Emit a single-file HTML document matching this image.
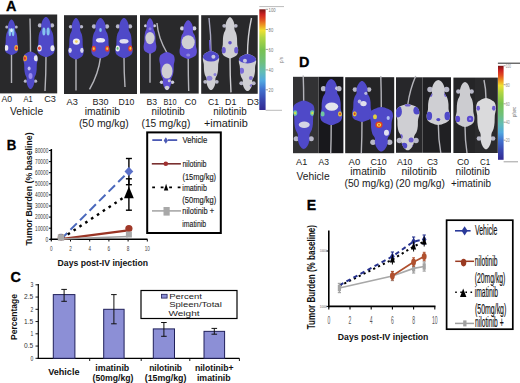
<!DOCTYPE html><html><head><meta charset="utf-8"><style>html,body{margin:0;padding:0;background:#fff;}svg{display:block;}text{font-family:"Liberation Sans",sans-serif;}</style></head><body>
<svg width="520" height="383" viewBox="0 0 520 383">
<defs><filter id="soft" x="-20%" y="-20%" width="140%" height="140%"><feGaussianBlur stdDeviation="0.55"/></filter><filter id="soft2" x="-20%" y="-20%" width="140%" height="140%"><feGaussianBlur stdDeviation="0.35"/></filter><linearGradient id="cbar" x1="0" y1="0" x2="0" y2="1"><stop offset="0" stop-color="#7a1414"/><stop offset="0.05" stop-color="#cc2020"/><stop offset="0.10" stop-color="#e04a20"/><stop offset="0.16" stop-color="#ee9a22"/><stop offset="0.21" stop-color="#eee030"/><stop offset="0.28" stop-color="#b2d642"/><stop offset="0.40" stop-color="#78c250"/><stop offset="0.52" stop-color="#70c07a"/><stop offset="0.62" stop-color="#62bcb4"/><stop offset="0.71" stop-color="#52a8e0"/><stop offset="0.79" stop-color="#4274d0"/><stop offset="0.89" stop-color="#3a4ab2"/><stop offset="1" stop-color="#322a92"/></linearGradient></defs>
<rect width="520" height="383" fill="#fff"/>
<text x="6.00" y="10.70" font-size="15" font-weight="bold" fill="#000" text-anchor="start" textLength="10.40" lengthAdjust="spacingAndGlyphs" stroke="#000" stroke-width="0.3">A</text>
<rect x="0" y="14.5" width="57.2" height="78.9" fill="#29292b"/>
<rect x="64" y="15.2" width="73" height="78.8" fill="#29292b"/>
<rect x="140" y="15.2" width="58.69999999999999" height="78.39999999999999" fill="#29292b"/>
<rect x="201.2" y="15.2" width="56.5" height="78.6" fill="#29292b"/>
<g transform="translate(11.50,19.50)" filter="url(#soft)" ><clipPath id="m1"><path d="M0.00,0.00 C0.56,0.00 1.19,0.59 1.69,1.24 C2.19,1.89 2.67,2.93 2.99,3.90 C3.32,4.88 3.53,5.98 3.64,7.10 C3.75,8.22 3.40,9.47 3.64,10.65 C3.88,11.83 4.72,12.90 5.07,14.20 C5.42,15.50 5.59,16.92 5.72,18.46 C5.85,20.00 5.70,21.83 5.85,23.43 C6.00,25.03 6.61,26.62 6.63,28.05 C6.65,29.47 6.49,30.94 5.98,31.95 C5.47,32.96 4.57,33.49 3.58,34.08 C2.58,34.67 1.19,35.50 0.00,35.50 C-1.19,35.50 -2.58,34.67 -3.58,34.08 C-4.57,33.49 -5.47,32.96 -5.98,31.95 C-6.49,30.94 -6.65,29.47 -6.63,28.05 C-6.61,26.62 -6.00,25.03 -5.85,23.43 C-5.70,21.83 -5.85,20.00 -5.72,18.46 C-5.59,16.92 -5.42,15.50 -5.07,14.20 C-4.72,12.90 -3.88,11.83 -3.64,10.65 C-3.40,9.47 -3.75,8.22 -3.64,7.10 C-3.53,5.98 -3.32,4.88 -2.99,3.90 C-2.67,2.93 -2.19,1.89 -1.69,1.24 C-1.19,0.59 -0.56,0.00 0.00,0.00 Z"/></clipPath><path d="M0,34.5 Q0,49.5 0,63.5" stroke="#b4b4ba" stroke-width="1.4" fill="none"/><circle cx="-4.68" cy="7.46" r="1.56" fill="#b8b8c8"/><circle cx="4.68" cy="7.46" r="1.56" fill="#b8b8c8"/><path d="M0.00,0.00 C0.56,0.00 1.19,0.59 1.69,1.24 C2.19,1.89 2.67,2.93 2.99,3.90 C3.32,4.88 3.53,5.98 3.64,7.10 C3.75,8.22 3.40,9.47 3.64,10.65 C3.88,11.83 4.72,12.90 5.07,14.20 C5.42,15.50 5.59,16.92 5.72,18.46 C5.85,20.00 5.70,21.83 5.85,23.43 C6.00,25.03 6.61,26.62 6.63,28.05 C6.65,29.47 6.49,30.94 5.98,31.95 C5.47,32.96 4.57,33.49 3.58,34.08 C2.58,34.67 1.19,35.50 0.00,35.50 C-1.19,35.50 -2.58,34.67 -3.58,34.08 C-4.57,33.49 -5.47,32.96 -5.98,31.95 C-6.49,30.94 -6.65,29.47 -6.63,28.05 C-6.61,26.62 -6.00,25.03 -5.85,23.43 C-5.70,21.83 -5.85,20.00 -5.72,18.46 C-5.59,16.92 -5.42,15.50 -5.07,14.20 C-4.72,12.90 -3.88,11.83 -3.64,10.65 C-3.40,9.47 -3.75,8.22 -3.64,7.10 C-3.53,5.98 -3.32,4.88 -2.99,3.90 C-2.67,2.93 -2.19,1.89 -1.69,1.24 C-1.19,0.59 -0.56,0.00 0.00,0.00 Z" fill="#5048c8"/><g clip-path="url(#m1)"><ellipse cx="-1.62" cy="12.78" rx="1.30" ry="4.00" fill="#86c4f0" opacity="1"/><ellipse cx="1.62" cy="12.78" rx="1.30" ry="4.00" fill="#86c4f0" opacity="1"/><ellipse cx="0.00" cy="10.65" rx="1.20" ry="2.00" fill="#e0f0ff" opacity="1"/><ellipse cx="-5.20" cy="28.40" rx="2.00" ry="2.80" fill="#e8e8f0" opacity="1"/><ellipse cx="4.88" cy="28.40" rx="2.00" ry="2.80" fill="#f0b040" opacity="1"/><ellipse cx="4.88" cy="28.40" rx="1.00" ry="1.40" fill="#e03030" opacity="1"/></g></g>
<g transform="translate(30.50,89.00) scale(1,-1)" filter="url(#soft)" ><clipPath id="m2"><path d="M0.00,0.00 C0.61,0.00 1.28,0.62 1.82,1.31 C2.36,1.99 2.87,3.09 3.22,4.11 C3.57,5.14 3.80,6.30 3.92,7.48 C4.04,8.66 3.66,9.97 3.92,11.22 C4.18,12.47 5.09,13.59 5.46,14.96 C5.83,16.33 6.02,17.83 6.16,19.45 C6.30,21.07 6.14,23.00 6.30,24.68 C6.46,26.37 7.12,28.05 7.14,29.55 C7.16,31.04 6.99,32.60 6.44,33.66 C5.89,34.72 4.92,35.28 3.85,35.90 C2.78,36.53 1.28,37.40 0.00,37.40 C-1.28,37.40 -2.78,36.53 -3.85,35.90 C-4.92,35.28 -5.89,34.72 -6.44,33.66 C-6.99,32.60 -7.16,31.04 -7.14,29.55 C-7.12,28.05 -6.46,26.37 -6.30,24.68 C-6.14,23.00 -6.30,21.07 -6.16,19.45 C-6.02,17.83 -5.83,16.33 -5.46,14.96 C-5.09,13.59 -4.18,12.47 -3.92,11.22 C-3.66,9.97 -4.04,8.66 -3.92,7.48 C-3.80,6.30 -3.57,5.14 -3.22,4.11 C-2.87,3.09 -2.36,1.99 -1.82,1.31 C-1.28,0.62 -0.61,0.00 0.00,0.00 Z"/></clipPath><path d="M0,36.4 Q0,53.9 -0.5,70.4" stroke="#b4b4ba" stroke-width="1.4" fill="none"/><circle cx="-5.04" cy="7.85" r="1.68" fill="#b8b8c8"/><circle cx="5.04" cy="7.85" r="1.68" fill="#b8b8c8"/><path d="M0.00,0.00 C0.61,0.00 1.28,0.62 1.82,1.31 C2.36,1.99 2.87,3.09 3.22,4.11 C3.57,5.14 3.80,6.30 3.92,7.48 C4.04,8.66 3.66,9.97 3.92,11.22 C4.18,12.47 5.09,13.59 5.46,14.96 C5.83,16.33 6.02,17.83 6.16,19.45 C6.30,21.07 6.14,23.00 6.30,24.68 C6.46,26.37 7.12,28.05 7.14,29.55 C7.16,31.04 6.99,32.60 6.44,33.66 C5.89,34.72 4.92,35.28 3.85,35.90 C2.78,36.53 1.28,37.40 0.00,37.40 C-1.28,37.40 -2.78,36.53 -3.85,35.90 C-4.92,35.28 -5.89,34.72 -6.44,33.66 C-6.99,32.60 -7.16,31.04 -7.14,29.55 C-7.12,28.05 -6.46,26.37 -6.30,24.68 C-6.14,23.00 -6.30,21.07 -6.16,19.45 C-6.02,17.83 -5.83,16.33 -5.46,14.96 C-5.09,13.59 -4.18,12.47 -3.92,11.22 C-3.66,9.97 -4.04,8.66 -3.92,7.48 C-3.80,6.30 -3.57,5.14 -3.22,4.11 C-2.87,3.09 -2.36,1.99 -1.82,1.31 C-1.28,0.62 -0.61,0.00 0.00,0.00 Z" fill="#5048c8"/><g clip-path="url(#m2)"><ellipse cx="0.00" cy="13.09" rx="2.00" ry="3.00" fill="#9a8cf0" opacity="1"/><ellipse cx="-1.40" cy="20.57" rx="1.50" ry="2.00" fill="#c0c0f0" opacity="1"/><ellipse cx="-5.60" cy="30.67" rx="2.20" ry="3.00" fill="#f0a030" opacity="1"/><ellipse cx="-5.60" cy="30.67" rx="1.00" ry="1.50" fill="#e03030" opacity="1"/><ellipse cx="5.60" cy="30.67" rx="2.20" ry="3.00" fill="#e8e8f0" opacity="1"/></g></g>
<g transform="translate(46.00,17.00)" filter="url(#soft)" ><clipPath id="m3"><path d="M0.00,0.00 C0.74,0.00 1.56,0.67 2.21,1.40 C2.86,2.13 3.48,3.30 3.91,4.40 C4.33,5.50 4.62,6.73 4.76,8.00 C4.90,9.27 4.45,10.67 4.76,12.00 C5.07,13.33 6.18,14.53 6.63,16.00 C7.08,17.47 7.31,19.07 7.48,20.80 C7.65,22.53 7.45,24.60 7.65,26.40 C7.85,28.20 8.64,30.00 8.67,31.60 C8.70,33.20 8.49,34.87 7.82,36.00 C7.15,37.13 5.98,37.73 4.68,38.40 C3.37,39.07 1.56,40.00 0.00,40.00 C-1.56,40.00 -3.37,39.07 -4.68,38.40 C-5.98,37.73 -7.15,37.13 -7.82,36.00 C-8.49,34.87 -8.70,33.20 -8.67,31.60 C-8.64,30.00 -7.85,28.20 -7.65,26.40 C-7.45,24.60 -7.65,22.53 -7.48,20.80 C-7.31,19.07 -7.08,17.47 -6.63,16.00 C-6.18,14.53 -5.07,13.33 -4.76,12.00 C-4.45,10.67 -4.90,9.27 -4.76,8.00 C-4.62,6.73 -4.33,5.50 -3.91,4.40 C-3.48,3.30 -2.86,2.13 -2.21,1.40 C-1.56,0.67 -0.74,0.00 0.00,0.00 Z"/></clipPath><path d="M0,39 Q0,57.0 -1,74" stroke="#b4b4ba" stroke-width="1.4" fill="none"/><circle cx="-6.12" cy="8.40" r="2.04" fill="#b8b8c8"/><circle cx="6.12" cy="8.40" r="2.04" fill="#b8b8c8"/><path d="M0.00,0.00 C0.74,0.00 1.56,0.67 2.21,1.40 C2.86,2.13 3.48,3.30 3.91,4.40 C4.33,5.50 4.62,6.73 4.76,8.00 C4.90,9.27 4.45,10.67 4.76,12.00 C5.07,13.33 6.18,14.53 6.63,16.00 C7.08,17.47 7.31,19.07 7.48,20.80 C7.65,22.53 7.45,24.60 7.65,26.40 C7.85,28.20 8.64,30.00 8.67,31.60 C8.70,33.20 8.49,34.87 7.82,36.00 C7.15,37.13 5.98,37.73 4.68,38.40 C3.37,39.07 1.56,40.00 0.00,40.00 C-1.56,40.00 -3.37,39.07 -4.68,38.40 C-5.98,37.73 -7.15,37.13 -7.82,36.00 C-8.49,34.87 -8.70,33.20 -8.67,31.60 C-8.64,30.00 -7.85,28.20 -7.65,26.40 C-7.45,24.60 -7.65,22.53 -7.48,20.80 C-7.31,19.07 -7.08,17.47 -6.63,16.00 C-6.18,14.53 -5.07,13.33 -4.76,12.00 C-4.45,10.67 -4.90,9.27 -4.76,8.00 C-4.62,6.73 -4.33,5.50 -3.91,4.40 C-3.48,3.30 -2.86,2.13 -2.21,1.40 C-1.56,0.67 -0.74,0.00 0.00,0.00 Z" fill="#5048c8"/><g clip-path="url(#m3)"><ellipse cx="-2.12" cy="14.40" rx="1.60" ry="4.00" fill="#86c4f0" opacity="1"/><ellipse cx="2.12" cy="14.40" rx="1.60" ry="4.00" fill="#86c4f0" opacity="1"/><ellipse cx="-6.63" cy="31.20" rx="2.40" ry="3.20" fill="#e8e8f0" opacity="1"/><ellipse cx="-6.63" cy="31.20" rx="1.40" ry="1.80" fill="#e04030" opacity="1"/><ellipse cx="6.63" cy="31.20" rx="2.20" ry="3.00" fill="#e8e8f0" opacity="1"/></g></g>
<g transform="translate(76.00,18.00)" filter="url(#soft)" ><clipPath id="m4"><path d="M0.00,0.00 C0.65,0.00 1.38,0.69 1.95,1.45 C2.53,2.21 3.08,3.42 3.45,4.55 C3.83,5.69 4.08,6.97 4.20,8.28 C4.33,9.59 3.93,11.04 4.20,12.42 C4.48,13.80 5.45,15.04 5.85,16.56 C6.25,18.08 6.45,19.73 6.60,21.53 C6.75,23.32 6.58,25.46 6.75,27.32 C6.92,29.19 7.62,31.05 7.65,32.71 C7.68,34.36 7.49,36.09 6.90,37.26 C6.31,38.43 5.28,39.05 4.12,39.74 C2.97,40.43 1.38,41.40 0.00,41.40 C-1.38,41.40 -2.97,40.43 -4.12,39.74 C-5.28,39.05 -6.31,38.43 -6.90,37.26 C-7.49,36.09 -7.68,34.36 -7.65,32.71 C-7.62,31.05 -6.92,29.19 -6.75,27.32 C-6.58,25.46 -6.75,23.32 -6.60,21.53 C-6.45,19.73 -6.25,18.08 -5.85,16.56 C-5.45,15.04 -4.48,13.80 -4.20,12.42 C-3.93,11.04 -4.33,9.59 -4.20,8.28 C-4.08,6.97 -3.83,5.69 -3.45,4.55 C-3.08,3.42 -2.53,2.21 -1.95,1.45 C-1.38,0.69 -0.65,0.00 0.00,0.00 Z"/></clipPath><path d="M0,40.4 Q0,56.9 0,72.4" stroke="#b4b4ba" stroke-width="1.4" fill="none"/><circle cx="-5.40" cy="8.69" r="1.80" fill="#b8b8c8"/><circle cx="5.40" cy="8.69" r="1.80" fill="#b8b8c8"/><path d="M0.00,0.00 C0.65,0.00 1.38,0.69 1.95,1.45 C2.53,2.21 3.08,3.42 3.45,4.55 C3.83,5.69 4.08,6.97 4.20,8.28 C4.33,9.59 3.93,11.04 4.20,12.42 C4.48,13.80 5.45,15.04 5.85,16.56 C6.25,18.08 6.45,19.73 6.60,21.53 C6.75,23.32 6.58,25.46 6.75,27.32 C6.92,29.19 7.62,31.05 7.65,32.71 C7.68,34.36 7.49,36.09 6.90,37.26 C6.31,38.43 5.28,39.05 4.12,39.74 C2.97,40.43 1.38,41.40 0.00,41.40 C-1.38,41.40 -2.97,40.43 -4.12,39.74 C-5.28,39.05 -6.31,38.43 -6.90,37.26 C-7.49,36.09 -7.68,34.36 -7.65,32.71 C-7.62,31.05 -6.92,29.19 -6.75,27.32 C-6.58,25.46 -6.75,23.32 -6.60,21.53 C-6.45,19.73 -6.25,18.08 -5.85,16.56 C-5.45,15.04 -4.48,13.80 -4.20,12.42 C-3.93,11.04 -4.33,9.59 -4.20,8.28 C-4.08,6.97 -3.83,5.69 -3.45,4.55 C-3.08,3.42 -2.53,2.21 -1.95,1.45 C-1.38,0.69 -0.65,0.00 0.00,0.00 Z" fill="#5048c8"/><g clip-path="url(#m4)"><ellipse cx="0.38" cy="23.60" rx="3.50" ry="3.20" fill="#ececf4" opacity="1"/><ellipse cx="0.38" cy="23.60" rx="1.40" ry="1.30" fill="#f0d060" opacity="1"/><ellipse cx="-6.00" cy="32.29" rx="1.80" ry="2.60" fill="#d8d8f0" opacity="1"/><ellipse cx="6.00" cy="32.29" rx="1.80" ry="2.60" fill="#d8d8f0" opacity="1"/></g></g>
<g transform="translate(100.50,18.00)" filter="url(#soft)" ><clipPath id="m5"><path d="M0.00,0.00 C0.78,0.00 1.65,0.67 2.34,1.41 C3.03,2.15 3.69,3.33 4.14,4.44 C4.59,5.55 4.89,6.80 5.04,8.08 C5.19,9.36 4.71,10.77 5.04,12.12 C5.37,13.47 6.54,14.68 7.02,16.16 C7.50,17.64 7.74,19.26 7.92,21.01 C8.10,22.76 7.89,24.85 8.10,26.66 C8.31,28.48 9.15,30.30 9.18,31.92 C9.21,33.53 8.99,35.22 8.28,36.36 C7.58,37.50 6.33,38.11 4.95,38.78 C3.57,39.46 1.65,40.40 0.00,40.40 C-1.65,40.40 -3.57,39.46 -4.95,38.78 C-6.33,38.11 -7.58,37.50 -8.28,36.36 C-8.99,35.22 -9.21,33.53 -9.18,31.92 C-9.15,30.30 -8.31,28.48 -8.10,26.66 C-7.89,24.85 -8.10,22.76 -7.92,21.01 C-7.74,19.26 -7.50,17.64 -7.02,16.16 C-6.54,14.68 -5.37,13.47 -5.04,12.12 C-4.71,10.77 -5.19,9.36 -5.04,8.08 C-4.89,6.80 -4.59,5.55 -4.14,4.44 C-3.69,3.33 -3.03,2.15 -2.34,1.41 C-1.65,0.67 -0.78,0.00 0.00,0.00 Z"/></clipPath><path d="M0,39.4 Q-2,55.9 -11,71.4" stroke="#b4b4ba" stroke-width="1.4" fill="none"/><circle cx="-6.48" cy="8.48" r="2.16" fill="#b8b8c8"/><circle cx="6.48" cy="8.48" r="2.16" fill="#b8b8c8"/><path d="M0.00,0.00 C0.78,0.00 1.65,0.67 2.34,1.41 C3.03,2.15 3.69,3.33 4.14,4.44 C4.59,5.55 4.89,6.80 5.04,8.08 C5.19,9.36 4.71,10.77 5.04,12.12 C5.37,13.47 6.54,14.68 7.02,16.16 C7.50,17.64 7.74,19.26 7.92,21.01 C8.10,22.76 7.89,24.85 8.10,26.66 C8.31,28.48 9.15,30.30 9.18,31.92 C9.21,33.53 8.99,35.22 8.28,36.36 C7.58,37.50 6.33,38.11 4.95,38.78 C3.57,39.46 1.65,40.40 0.00,40.40 C-1.65,40.40 -3.57,39.46 -4.95,38.78 C-6.33,38.11 -7.58,37.50 -8.28,36.36 C-8.99,35.22 -9.21,33.53 -9.18,31.92 C-9.15,30.30 -8.31,28.48 -8.10,26.66 C-7.89,24.85 -8.10,22.76 -7.92,21.01 C-7.74,19.26 -7.50,17.64 -7.02,16.16 C-6.54,14.68 -5.37,13.47 -5.04,12.12 C-4.71,10.77 -5.19,9.36 -5.04,8.08 C-4.89,6.80 -4.59,5.55 -4.14,4.44 C-3.69,3.33 -3.03,2.15 -2.34,1.41 C-1.65,0.67 -0.78,0.00 0.00,0.00 Z" fill="#5048c8"/><g clip-path="url(#m5)"><ellipse cx="0.00" cy="12.12" rx="1.30" ry="2.00" fill="#86c4f0" opacity="1"/><ellipse cx="0.00" cy="22.22" rx="4.50" ry="2.30" fill="#ececf4" opacity="1"/><ellipse cx="-6.75" cy="30.70" rx="2.20" ry="3.00" fill="#e04030" opacity="1"/><ellipse cx="-6.75" cy="30.70" rx="1.00" ry="1.40" fill="#f0d040" opacity="1"/><ellipse cx="6.75" cy="30.70" rx="2.20" ry="3.00" fill="#e04030" opacity="1"/><ellipse cx="6.75" cy="30.70" rx="1.00" ry="1.40" fill="#f0d040" opacity="1"/></g></g>
<g transform="translate(124.00,18.00)" filter="url(#soft)" ><clipPath id="m6"><path d="M0.00,0.00 C0.74,0.00 1.56,0.67 2.21,1.40 C2.86,2.13 3.48,3.30 3.91,4.40 C4.33,5.50 4.62,6.73 4.76,8.00 C4.90,9.27 4.45,10.67 4.76,12.00 C5.07,13.33 6.18,14.53 6.63,16.00 C7.08,17.47 7.31,19.07 7.48,20.80 C7.65,22.53 7.45,24.60 7.65,26.40 C7.85,28.20 8.64,30.00 8.67,31.60 C8.70,33.20 8.49,34.87 7.82,36.00 C7.15,37.13 5.98,37.73 4.68,38.40 C3.37,39.07 1.56,40.00 0.00,40.00 C-1.56,40.00 -3.37,39.07 -4.68,38.40 C-5.98,37.73 -7.15,37.13 -7.82,36.00 C-8.49,34.87 -8.70,33.20 -8.67,31.60 C-8.64,30.00 -7.85,28.20 -7.65,26.40 C-7.45,24.60 -7.65,22.53 -7.48,20.80 C-7.31,19.07 -7.08,17.47 -6.63,16.00 C-6.18,14.53 -5.07,13.33 -4.76,12.00 C-4.45,10.67 -4.90,9.27 -4.76,8.00 C-4.62,6.73 -4.33,5.50 -3.91,4.40 C-3.48,3.30 -2.86,2.13 -2.21,1.40 C-1.56,0.67 -0.74,0.00 0.00,0.00 Z"/></clipPath><path d="M0,39 Q0,54.5 1,69" stroke="#b4b4ba" stroke-width="1.4" fill="none"/><circle cx="-6.12" cy="8.40" r="2.04" fill="#b8b8c8"/><circle cx="6.12" cy="8.40" r="2.04" fill="#b8b8c8"/><path d="M0.00,0.00 C0.74,0.00 1.56,0.67 2.21,1.40 C2.86,2.13 3.48,3.30 3.91,4.40 C4.33,5.50 4.62,6.73 4.76,8.00 C4.90,9.27 4.45,10.67 4.76,12.00 C5.07,13.33 6.18,14.53 6.63,16.00 C7.08,17.47 7.31,19.07 7.48,20.80 C7.65,22.53 7.45,24.60 7.65,26.40 C7.85,28.20 8.64,30.00 8.67,31.60 C8.70,33.20 8.49,34.87 7.82,36.00 C7.15,37.13 5.98,37.73 4.68,38.40 C3.37,39.07 1.56,40.00 0.00,40.00 C-1.56,40.00 -3.37,39.07 -4.68,38.40 C-5.98,37.73 -7.15,37.13 -7.82,36.00 C-8.49,34.87 -8.70,33.20 -8.67,31.60 C-8.64,30.00 -7.85,28.20 -7.65,26.40 C-7.45,24.60 -7.65,22.53 -7.48,20.80 C-7.31,19.07 -7.08,17.47 -6.63,16.00 C-6.18,14.53 -5.07,13.33 -4.76,12.00 C-4.45,10.67 -4.90,9.27 -4.76,8.00 C-4.62,6.73 -4.33,5.50 -3.91,4.40 C-3.48,3.30 -2.86,2.13 -2.21,1.40 C-1.56,0.67 -0.74,0.00 0.00,0.00 Z" fill="#5048c8"/><g clip-path="url(#m6)"><ellipse cx="0.00" cy="23.20" rx="4.50" ry="2.30" fill="#e0e0f0" opacity="1"/><ellipse cx="-6.38" cy="30.40" rx="2.20" ry="3.00" fill="#f0f0f0" opacity="1"/><ellipse cx="-6.38" cy="30.40" rx="1.00" ry="1.40" fill="#60c080" opacity="1"/><ellipse cx="6.38" cy="30.40" rx="2.20" ry="3.00" fill="#e04030" opacity="1"/><ellipse cx="6.38" cy="30.40" rx="1.00" ry="1.40" fill="#f0d040" opacity="1"/></g></g>
<g transform="translate(150.00,18.20)" filter="url(#soft)" ><clipPath id="m7"><path d="M0.00,0.00 C0.54,0.00 1.15,0.59 1.62,1.24 C2.10,1.89 2.56,2.93 2.88,3.90 C3.19,4.88 3.40,5.98 3.50,7.10 C3.60,8.22 3.27,9.47 3.50,10.65 C3.73,11.83 4.54,12.90 4.88,14.20 C5.21,15.50 5.38,16.92 5.50,18.46 C5.62,20.00 5.48,21.83 5.62,23.43 C5.77,25.03 6.35,26.62 6.38,28.05 C6.40,29.47 6.24,30.94 5.75,31.95 C5.26,32.96 4.40,33.49 3.44,34.08 C2.48,34.67 1.15,35.50 0.00,35.50 C-1.15,35.50 -2.48,34.67 -3.44,34.08 C-4.40,33.49 -5.26,32.96 -5.75,31.95 C-6.24,30.94 -6.40,29.47 -6.38,28.05 C-6.35,26.62 -5.77,25.03 -5.62,23.43 C-5.48,21.83 -5.62,20.00 -5.50,18.46 C-5.38,16.92 -5.21,15.50 -4.88,14.20 C-4.54,12.90 -3.73,11.83 -3.50,10.65 C-3.27,9.47 -3.60,8.22 -3.50,7.10 C-3.40,5.98 -3.19,4.88 -2.88,3.90 C-2.56,2.93 -2.10,1.89 -1.62,1.24 C-1.15,0.59 -0.54,0.00 0.00,0.00 Z"/></clipPath><path d="M0,34.5 Q0,50.0 0,64.5" stroke="#b4b4ba" stroke-width="1.4" fill="none"/><circle cx="-4.50" cy="7.46" r="1.50" fill="#d0d0dc"/><circle cx="4.50" cy="7.46" r="1.50" fill="#d0d0dc"/><path d="M0.00,0.00 C0.54,0.00 1.15,0.59 1.62,1.24 C2.10,1.89 2.56,2.93 2.88,3.90 C3.19,4.88 3.40,5.98 3.50,7.10 C3.60,8.22 3.27,9.47 3.50,10.65 C3.73,11.83 4.54,12.90 4.88,14.20 C5.21,15.50 5.38,16.92 5.50,18.46 C5.62,20.00 5.48,21.83 5.62,23.43 C5.77,25.03 6.35,26.62 6.38,28.05 C6.40,29.47 6.24,30.94 5.75,31.95 C5.26,32.96 4.40,33.49 3.44,34.08 C2.48,34.67 1.15,35.50 0.00,35.50 C-1.15,35.50 -2.48,34.67 -3.44,34.08 C-4.40,33.49 -5.26,32.96 -5.75,31.95 C-6.24,30.94 -6.40,29.47 -6.38,28.05 C-6.35,26.62 -5.77,25.03 -5.62,23.43 C-5.48,21.83 -5.62,20.00 -5.50,18.46 C-5.38,16.92 -5.21,15.50 -4.88,14.20 C-4.54,12.90 -3.73,11.83 -3.50,10.65 C-3.27,9.47 -3.60,8.22 -3.50,7.10 C-3.40,5.98 -3.19,4.88 -2.88,3.90 C-2.56,2.93 -2.10,1.89 -1.62,1.24 C-1.15,0.59 -0.54,0.00 0.00,0.00 Z" fill="#5e50d4"/><g clip-path="url(#m7)"><ellipse cx="0.00" cy="19.88" rx="4.60" ry="6.20" fill="#cfcfd3" opacity="1"/><ellipse cx="0.00" cy="10.65" rx="1.50" ry="1.50" fill="#8a80e0" opacity="1"/></g></g>
<g transform="translate(167.00,90.20) scale(1,-1)" filter="url(#soft)" ><clipPath id="m8"><path d="M0.00,0.00 C0.65,0.00 1.38,0.64 1.95,1.34 C2.53,2.04 3.08,3.15 3.45,4.20 C3.83,5.25 4.08,6.43 4.20,7.64 C4.33,8.85 3.93,10.19 4.20,11.46 C4.48,12.73 5.45,13.88 5.85,15.28 C6.25,16.68 6.45,18.21 6.60,19.86 C6.75,21.52 6.58,23.49 6.75,25.21 C6.92,26.93 7.62,28.65 7.65,30.18 C7.68,31.71 7.49,33.30 6.90,34.38 C6.31,35.46 5.28,36.04 4.12,36.67 C2.97,37.31 1.38,38.20 0.00,38.20 C-1.38,38.20 -2.97,37.31 -4.12,36.67 C-5.28,36.04 -6.31,35.46 -6.90,34.38 C-7.49,33.30 -7.68,31.71 -7.65,30.18 C-7.62,28.65 -6.92,26.93 -6.75,25.21 C-6.58,23.49 -6.75,21.52 -6.60,19.86 C-6.45,18.21 -6.25,16.68 -5.85,15.28 C-5.45,13.88 -4.48,12.73 -4.20,11.46 C-3.93,10.19 -4.33,8.85 -4.20,7.64 C-4.08,6.43 -3.83,5.25 -3.45,4.20 C-3.08,3.15 -2.53,2.04 -1.95,1.34 C-1.38,0.64 -0.65,0.00 0.00,0.00 Z"/></clipPath><path d="M0,37.2 Q-9,52.7 -10,67.2" stroke="#b4b4ba" stroke-width="1.4" fill="none"/><circle cx="-5.40" cy="8.02" r="1.80" fill="#d0d0dc"/><circle cx="5.40" cy="8.02" r="1.80" fill="#d0d0dc"/><path d="M0.00,0.00 C0.65,0.00 1.38,0.64 1.95,1.34 C2.53,2.04 3.08,3.15 3.45,4.20 C3.83,5.25 4.08,6.43 4.20,7.64 C4.33,8.85 3.93,10.19 4.20,11.46 C4.48,12.73 5.45,13.88 5.85,15.28 C6.25,16.68 6.45,18.21 6.60,19.86 C6.75,21.52 6.58,23.49 6.75,25.21 C6.92,26.93 7.62,28.65 7.65,30.18 C7.68,31.71 7.49,33.30 6.90,34.38 C6.31,35.46 5.28,36.04 4.12,36.67 C2.97,37.31 1.38,38.20 0.00,38.20 C-1.38,38.20 -2.97,37.31 -4.12,36.67 C-5.28,36.04 -6.31,35.46 -6.90,34.38 C-7.49,33.30 -7.68,31.71 -7.65,30.18 C-7.62,28.65 -6.92,26.93 -6.75,25.21 C-6.58,23.49 -6.75,21.52 -6.60,19.86 C-6.45,18.21 -6.25,16.68 -5.85,15.28 C-5.45,13.88 -4.48,12.73 -4.20,11.46 C-3.93,10.19 -4.33,8.85 -4.20,7.64 C-4.08,6.43 -3.83,5.25 -3.45,4.20 C-3.08,3.15 -2.53,2.04 -1.95,1.34 C-1.38,0.64 -0.65,0.00 0.00,0.00 Z" fill="#5e50d4"/><g clip-path="url(#m8)"><ellipse cx="0.00" cy="19.10" rx="5.50" ry="7.50" fill="#cfcfd3" opacity="1"/><ellipse cx="0.00" cy="1.91" rx="2.50" ry="2.50" fill="#cfcfd3" opacity="1"/><ellipse cx="2.25" cy="9.55" rx="1.50" ry="1.50" fill="#cfcfd3" opacity="1"/></g></g>
<g transform="translate(188.20,20.30)" filter="url(#soft)" ><clipPath id="m9"><path d="M0.00,0.00 C0.74,0.00 1.56,0.64 2.21,1.35 C2.86,2.06 3.48,3.18 3.91,4.25 C4.33,5.31 4.62,6.50 4.76,7.72 C4.90,8.94 4.45,10.29 4.76,11.58 C5.07,12.87 6.18,14.02 6.63,15.44 C7.08,16.86 7.31,18.40 7.48,20.07 C7.65,21.74 7.45,23.74 7.65,25.48 C7.85,27.21 8.64,28.95 8.67,30.49 C8.70,32.04 8.49,33.65 7.82,34.74 C7.15,35.83 5.98,36.41 4.68,37.06 C3.37,37.70 1.56,38.60 0.00,38.60 C-1.56,38.60 -3.37,37.70 -4.68,37.06 C-5.98,36.41 -7.15,35.83 -7.82,34.74 C-8.49,33.65 -8.70,32.04 -8.67,30.49 C-8.64,28.95 -7.85,27.21 -7.65,25.48 C-7.45,23.74 -7.65,21.74 -7.48,20.07 C-7.31,18.40 -7.08,16.86 -6.63,15.44 C-6.18,14.02 -5.07,12.87 -4.76,11.58 C-4.45,10.29 -4.90,8.94 -4.76,7.72 C-4.62,6.50 -4.33,5.31 -3.91,4.25 C-3.48,3.18 -2.86,2.06 -2.21,1.35 C-1.56,0.64 -0.74,0.00 0.00,0.00 Z"/></clipPath><path d="M0,37.599999999999994 Q0,54.599999999999994 0.5,70.6" stroke="#b4b4ba" stroke-width="1.4" fill="none"/><circle cx="-6.12" cy="8.11" r="2.04" fill="#d0d0dc"/><circle cx="6.12" cy="8.11" r="2.04" fill="#d0d0dc"/><path d="M0.00,0.00 C0.74,0.00 1.56,0.64 2.21,1.35 C2.86,2.06 3.48,3.18 3.91,4.25 C4.33,5.31 4.62,6.50 4.76,7.72 C4.90,8.94 4.45,10.29 4.76,11.58 C5.07,12.87 6.18,14.02 6.63,15.44 C7.08,16.86 7.31,18.40 7.48,20.07 C7.65,21.74 7.45,23.74 7.65,25.48 C7.85,27.21 8.64,28.95 8.67,30.49 C8.70,32.04 8.49,33.65 7.82,34.74 C7.15,35.83 5.98,36.41 4.68,37.06 C3.37,37.70 1.56,38.60 0.00,38.60 C-1.56,38.60 -3.37,37.70 -4.68,37.06 C-5.98,36.41 -7.15,35.83 -7.82,34.74 C-8.49,33.65 -8.70,32.04 -8.67,30.49 C-8.64,28.95 -7.85,27.21 -7.65,25.48 C-7.45,23.74 -7.65,21.74 -7.48,20.07 C-7.31,18.40 -7.08,16.86 -6.63,15.44 C-6.18,14.02 -5.07,12.87 -4.76,11.58 C-4.45,10.29 -4.90,8.94 -4.76,7.72 C-4.62,6.50 -4.33,5.31 -3.91,4.25 C-3.48,3.18 -2.86,2.06 -2.21,1.35 C-1.56,0.64 -0.74,0.00 0.00,0.00 Z" fill="#5e50d4"/><g clip-path="url(#m9)"><ellipse cx="0.00" cy="22.00" rx="6.50" ry="7.00" fill="#cfcfd3" opacity="1"/><ellipse cx="0.00" cy="34.74" rx="2.00" ry="1.50" fill="#9088e0" opacity="1"/></g></g>
<g transform="translate(211.00,90.00) scale(1,-1)" filter="url(#soft)" ><clipPath id="m10"><path d="M0.00,0.00 C0.69,0.00 1.47,0.65 2.08,1.37 C2.69,2.08 3.28,3.22 3.68,4.29 C4.08,5.36 4.35,6.57 4.48,7.80 C4.61,9.04 4.19,10.40 4.48,11.70 C4.77,13.00 5.81,14.17 6.24,15.60 C6.67,17.03 6.88,18.59 7.04,20.28 C7.20,21.97 7.01,23.99 7.20,25.74 C7.39,27.50 8.13,29.25 8.16,30.81 C8.19,32.37 7.99,34.00 7.36,35.10 C6.73,36.20 5.63,36.79 4.40,37.44 C3.17,38.09 1.47,39.00 0.00,39.00 C-1.47,39.00 -3.17,38.09 -4.40,37.44 C-5.63,36.79 -6.73,36.20 -7.36,35.10 C-7.99,34.00 -8.19,32.37 -8.16,30.81 C-8.13,29.25 -7.39,27.50 -7.20,25.74 C-7.01,23.99 -7.20,21.97 -7.04,20.28 C-6.88,18.59 -6.67,17.03 -6.24,15.60 C-5.81,14.17 -4.77,13.00 -4.48,11.70 C-4.19,10.40 -4.61,9.04 -4.48,7.80 C-4.35,6.57 -4.08,5.36 -3.68,4.29 C-3.28,3.22 -2.69,2.08 -2.08,1.37 C-1.47,0.65 -0.69,0.00 0.00,0.00 Z"/></clipPath><path d="M0,38 Q0,55.5 -2,72" stroke="#a8a8c0" stroke-width="1.4" fill="none"/><circle cx="-5.76" cy="8.19" r="1.92" fill="#b8b8c8"/><circle cx="5.76" cy="8.19" r="1.92" fill="#b8b8c8"/><path d="M0.00,0.00 C0.69,0.00 1.47,0.65 2.08,1.37 C2.69,2.08 3.28,3.22 3.68,4.29 C4.08,5.36 4.35,6.57 4.48,7.80 C4.61,9.04 4.19,10.40 4.48,11.70 C4.77,13.00 5.81,14.17 6.24,15.60 C6.67,17.03 6.88,18.59 7.04,20.28 C7.20,21.97 7.01,23.99 7.20,25.74 C7.39,27.50 8.13,29.25 8.16,30.81 C8.19,32.37 7.99,34.00 7.36,35.10 C6.73,36.20 5.63,36.79 4.40,37.44 C3.17,38.09 1.47,39.00 0.00,39.00 C-1.47,39.00 -3.17,38.09 -4.40,37.44 C-5.63,36.79 -6.73,36.20 -7.36,35.10 C-7.99,34.00 -8.19,32.37 -8.16,30.81 C-8.13,29.25 -7.39,27.50 -7.20,25.74 C-7.01,23.99 -7.20,21.97 -7.04,20.28 C-6.88,18.59 -6.67,17.03 -6.24,15.60 C-5.81,14.17 -4.77,13.00 -4.48,11.70 C-4.19,10.40 -4.61,9.04 -4.48,7.80 C-4.35,6.57 -4.08,5.36 -3.68,4.29 C-3.28,3.22 -2.69,2.08 -2.08,1.37 C-1.47,0.65 -0.69,0.00 0.00,0.00 Z" fill="#cfcfd3"/><g clip-path="url(#m10)"><ellipse cx="0.00" cy="33.93" rx="8.50" ry="5.50" fill="#5048c8" opacity="1"/><ellipse cx="2.40" cy="33.15" rx="2.00" ry="2.00" fill="#c8c8e0" opacity="1"/><ellipse cx="-1.60" cy="11.70" rx="3.00" ry="2.50" fill="#8a80d8" opacity="1"/><ellipse cx="4.00" cy="15.60" rx="1.50" ry="1.50" fill="#8a80d8" opacity="1"/></g></g>
<line x1="209.5" y1="40" x2="210.3" y2="52" stroke="#6a5ad0" stroke-width="1.5" filter="url(#soft)"/>
<g transform="translate(230.00,17.20)" filter="url(#soft)" ><clipPath id="m11"><path d="M0.00,0.00 C0.69,0.00 1.47,0.69 2.08,1.44 C2.69,2.20 3.28,3.40 3.68,4.53 C4.08,5.67 4.35,6.94 4.48,8.24 C4.61,9.54 4.19,10.99 4.48,12.36 C4.77,13.73 5.81,14.97 6.24,16.48 C6.67,17.99 6.88,19.64 7.04,21.42 C7.20,23.21 7.01,25.34 7.20,27.19 C7.39,29.05 8.13,30.90 8.16,32.55 C8.19,34.20 7.99,35.91 7.36,37.08 C6.73,38.25 5.63,38.87 4.40,39.55 C3.17,40.24 1.47,41.20 0.00,41.20 C-1.47,41.20 -3.17,40.24 -4.40,39.55 C-5.63,38.87 -6.73,38.25 -7.36,37.08 C-7.99,35.91 -8.19,34.20 -8.16,32.55 C-8.13,30.90 -7.39,29.05 -7.20,27.19 C-7.01,25.34 -7.20,23.21 -7.04,21.42 C-6.88,19.64 -6.67,17.99 -6.24,16.48 C-5.81,14.97 -4.77,13.73 -4.48,12.36 C-4.19,10.99 -4.61,9.54 -4.48,8.24 C-4.35,6.94 -4.08,5.67 -3.68,4.53 C-3.28,3.40 -2.69,2.20 -2.08,1.44 C-1.47,0.69 -0.69,0.00 0.00,0.00 Z"/></clipPath><path d="M0,40.2 Q0,58.2 1,75.2" stroke="#d0d0d4" stroke-width="1.4" fill="none"/><circle cx="-5.76" cy="8.65" r="1.92" fill="#b8b8c8"/><circle cx="5.76" cy="8.65" r="1.92" fill="#b8b8c8"/><path d="M0.00,0.00 C0.69,0.00 1.47,0.69 2.08,1.44 C2.69,2.20 3.28,3.40 3.68,4.53 C4.08,5.67 4.35,6.94 4.48,8.24 C4.61,9.54 4.19,10.99 4.48,12.36 C4.77,13.73 5.81,14.97 6.24,16.48 C6.67,17.99 6.88,19.64 7.04,21.42 C7.20,23.21 7.01,25.34 7.20,27.19 C7.39,29.05 8.13,30.90 8.16,32.55 C8.19,34.20 7.99,35.91 7.36,37.08 C6.73,38.25 5.63,38.87 4.40,39.55 C3.17,40.24 1.47,41.20 0.00,41.20 C-1.47,41.20 -3.17,40.24 -4.40,39.55 C-5.63,38.87 -6.73,38.25 -7.36,37.08 C-7.99,35.91 -8.19,34.20 -8.16,32.55 C-8.13,30.90 -7.39,29.05 -7.20,27.19 C-7.01,25.34 -7.20,23.21 -7.04,21.42 C-6.88,19.64 -6.67,17.99 -6.24,16.48 C-5.81,14.97 -4.77,13.73 -4.48,12.36 C-4.19,10.99 -4.61,9.54 -4.48,8.24 C-4.35,6.94 -4.08,5.67 -3.68,4.53 C-3.28,3.40 -2.69,2.20 -2.08,1.44 C-1.47,0.69 -0.69,0.00 0.00,0.00 Z" fill="#cfcfd3"/><g clip-path="url(#m11)"><ellipse cx="0.00" cy="25.54" rx="1.80" ry="1.80" fill="#6050c8" opacity="1"/><ellipse cx="-6.40" cy="32.96" rx="2.20" ry="3.20" fill="#6a5ad0" opacity="1"/><ellipse cx="6.40" cy="32.96" rx="2.20" ry="3.20" fill="#6a5ad0" opacity="1"/></g></g>
<g transform="translate(247.50,91.00) scale(1,-1)" filter="url(#soft)" ><clipPath id="m12"><path d="M0.00,0.00 C0.74,0.00 1.56,0.62 2.21,1.30 C2.86,1.97 3.48,3.05 3.91,4.07 C4.33,5.09 4.62,6.23 4.76,7.40 C4.90,8.57 4.45,9.87 4.76,11.10 C5.07,12.33 6.18,13.44 6.63,14.80 C7.08,16.16 7.31,17.64 7.48,19.24 C7.65,20.84 7.45,22.76 7.65,24.42 C7.85,26.09 8.64,27.75 8.67,29.23 C8.70,30.71 8.49,32.25 7.82,33.30 C7.15,34.35 5.98,34.90 4.68,35.52 C3.37,36.14 1.56,37.00 0.00,37.00 C-1.56,37.00 -3.37,36.14 -4.68,35.52 C-5.98,34.90 -7.15,34.35 -7.82,33.30 C-8.49,32.25 -8.70,30.71 -8.67,29.23 C-8.64,27.75 -7.85,26.09 -7.65,24.42 C-7.45,22.76 -7.65,20.84 -7.48,19.24 C-7.31,17.64 -7.08,16.16 -6.63,14.80 C-6.18,13.44 -5.07,12.33 -4.76,11.10 C-4.45,9.87 -4.90,8.57 -4.76,7.40 C-4.62,6.23 -4.33,5.09 -3.91,4.07 C-3.48,3.05 -2.86,1.97 -2.21,1.30 C-1.56,0.62 -0.74,0.00 0.00,0.00 Z"/></clipPath><path d="M0,36 Q0,55.0 4,73" stroke="#d0d0d4" stroke-width="1.4" fill="none"/><circle cx="-6.12" cy="7.77" r="2.04" fill="#b8b8c8"/><circle cx="6.12" cy="7.77" r="2.04" fill="#b8b8c8"/><path d="M0.00,0.00 C0.74,0.00 1.56,0.62 2.21,1.30 C2.86,1.97 3.48,3.05 3.91,4.07 C4.33,5.09 4.62,6.23 4.76,7.40 C4.90,8.57 4.45,9.87 4.76,11.10 C5.07,12.33 6.18,13.44 6.63,14.80 C7.08,16.16 7.31,17.64 7.48,19.24 C7.65,20.84 7.45,22.76 7.65,24.42 C7.85,26.09 8.64,27.75 8.67,29.23 C8.70,30.71 8.49,32.25 7.82,33.30 C7.15,34.35 5.98,34.90 4.68,35.52 C3.37,36.14 1.56,37.00 0.00,37.00 C-1.56,37.00 -3.37,36.14 -4.68,35.52 C-5.98,34.90 -7.15,34.35 -7.82,33.30 C-8.49,32.25 -8.70,30.71 -8.67,29.23 C-8.64,27.75 -7.85,26.09 -7.65,24.42 C-7.45,22.76 -7.65,20.84 -7.48,19.24 C-7.31,17.64 -7.08,16.16 -6.63,14.80 C-6.18,13.44 -5.07,12.33 -4.76,11.10 C-4.45,9.87 -4.90,8.57 -4.76,7.40 C-4.62,6.23 -4.33,5.09 -3.91,4.07 C-3.48,3.05 -2.86,1.97 -2.21,1.30 C-1.56,0.62 -0.74,0.00 0.00,0.00 Z" fill="#cfcfd3"/><g clip-path="url(#m12)"><ellipse cx="0.00" cy="32.56" rx="9.00" ry="5.00" fill="#5048c8" opacity="1"/><ellipse cx="-2.55" cy="30.34" rx="2.00" ry="2.00" fill="#c8c8e0" opacity="1"/><ellipse cx="-5.95" cy="20.35" rx="2.50" ry="3.00" fill="#7a6ad8" opacity="1"/><ellipse cx="3.40" cy="12.95" rx="2.00" ry="2.00" fill="#8070d0" opacity="1"/><ellipse cx="4.25" cy="5.55" rx="2.00" ry="1.50" fill="#8070d0" opacity="1"/></g></g>
<rect x="259.3" y="9.3" width="6.3" height="100.7" fill="url(#cbar)"/>
<line x1="259.3" y1="6.6" x2="284" y2="6.6" stroke="#a8a8a8" stroke-width="0.8"/>
<line x1="265.6" y1="110.3" x2="282" y2="110.3" stroke="#a8a8a8" stroke-width="0.8"/>
<line x1="265.6" y1="9.3" x2="268" y2="9.3" stroke="#777" stroke-width="0.7"/>
<text x="268.60" y="11.50" font-size="6" fill="#777" text-anchor="start" textLength="7.00" lengthAdjust="spacingAndGlyphs" >100</text>
<line x1="265.6" y1="29.5" x2="268" y2="29.5" stroke="#777" stroke-width="0.7"/>
<text x="268.60" y="31.70" font-size="6" fill="#777" text-anchor="start" textLength="4.60" lengthAdjust="spacingAndGlyphs" >80</text>
<line x1="265.6" y1="49.4" x2="268" y2="49.4" stroke="#777" stroke-width="0.7"/>
<text x="268.60" y="51.60" font-size="6" fill="#777" text-anchor="start" textLength="4.60" lengthAdjust="spacingAndGlyphs" >60</text>
<line x1="265.6" y1="69.9" x2="268" y2="69.9" stroke="#777" stroke-width="0.7"/>
<text x="268.60" y="72.10" font-size="6" fill="#777" text-anchor="start" textLength="4.60" lengthAdjust="spacingAndGlyphs" >40</text>
<line x1="265.6" y1="89.8" x2="268" y2="89.8" stroke="#777" stroke-width="0.7"/>
<text x="268.60" y="92.00" font-size="6" fill="#777" text-anchor="start" textLength="4.60" lengthAdjust="spacingAndGlyphs" >20</text>
<text transform="translate(282.50,63.00) rotate(-90)" x="0" y="0" font-size="4.5" fill="#777" textLength="6.00" lengthAdjust="spacingAndGlyphs">p/s</text>
<text x="1.60" y="102.30" font-size="8.7" fill="#1a1a1a" text-anchor="start" textLength="10.60" lengthAdjust="spacingAndGlyphs" >A0</text>
<text x="23.60" y="102.30" font-size="8.7" fill="#1a1a1a" text-anchor="start" textLength="9.10" lengthAdjust="spacingAndGlyphs" >A1</text>
<text x="44.20" y="102.30" font-size="8.7" fill="#1a1a1a" text-anchor="start" textLength="11.70" lengthAdjust="spacingAndGlyphs" >C3</text>
<text x="66.60" y="104.60" font-size="8.7" fill="#1a1a1a" text-anchor="start" textLength="11.30" lengthAdjust="spacingAndGlyphs" >A3</text>
<text x="92.50" y="104.60" font-size="8.7" fill="#1a1a1a" text-anchor="start" textLength="16.00" lengthAdjust="spacingAndGlyphs" >B30</text>
<text x="118.40" y="104.60" font-size="8.7" fill="#1a1a1a" text-anchor="start" textLength="16.00" lengthAdjust="spacingAndGlyphs" >D10</text>
<text x="146.60" y="104.60" font-size="8.7" fill="#1a1a1a" text-anchor="start" textLength="10.60" lengthAdjust="spacingAndGlyphs" >B3</text>
<text x="163.40" y="104.60" font-size="8.7" fill="#1a1a1a" text-anchor="start" textLength="13.10" lengthAdjust="spacingAndGlyphs" >B10</text>
<text x="184.60" y="104.60" font-size="8.7" fill="#1a1a1a" text-anchor="start" textLength="11.90" lengthAdjust="spacingAndGlyphs" >C0</text>
<text x="207.90" y="104.60" font-size="8.7" fill="#1a1a1a" text-anchor="start" textLength="11.10" lengthAdjust="spacingAndGlyphs" >C1</text>
<text x="225.10" y="104.60" font-size="8.7" fill="#1a1a1a" text-anchor="start" textLength="11.40" lengthAdjust="spacingAndGlyphs" >D1</text>
<text x="247.10" y="104.60" font-size="8.7" fill="#1a1a1a" text-anchor="start" textLength="11.90" lengthAdjust="spacingAndGlyphs" >D3</text>
<text x="10.00" y="114.60" font-size="10" fill="#1a1a1a" text-anchor="start" textLength="33.10" lengthAdjust="spacingAndGlyphs" >Vehicle</text>
<text x="84.70" y="115.00" font-size="10" fill="#1a1a1a" text-anchor="start" textLength="35.40" lengthAdjust="spacingAndGlyphs" >imatinib</text>
<text x="151.50" y="115.00" font-size="10" fill="#1a1a1a" text-anchor="start" textLength="33.30" lengthAdjust="spacingAndGlyphs" >nilotinib</text>
<text x="213.30" y="115.00" font-size="10" fill="#1a1a1a" text-anchor="start" textLength="33.30" lengthAdjust="spacingAndGlyphs" >nilotinib</text>
<text x="78.90" y="126.70" font-size="10" fill="#1a1a1a" text-anchor="start" textLength="49.90" lengthAdjust="spacingAndGlyphs" >(50 mg/kg)</text>
<text x="141.50" y="126.70" font-size="10" fill="#1a1a1a" text-anchor="start" textLength="48.80" lengthAdjust="spacingAndGlyphs" >(15 mg/kg)</text>
<text x="204.00" y="126.70" font-size="10" fill="#1a1a1a" text-anchor="start" textLength="43.80" lengthAdjust="spacingAndGlyphs" >+imatinib</text>
<text x="298.90" y="67.30" font-size="15" font-weight="bold" fill="#000" text-anchor="start" textLength="10.40" lengthAdjust="spacingAndGlyphs" stroke="#000" stroke-width="0.3">D</text>
<rect x="293" y="76.8" width="25.5" height="76.39999999999999" fill="#323234"/>
<rect x="318.5" y="76.8" width="24.899999999999977" height="76.39999999999999" fill="#18181c"/>
<rect x="345.2" y="77.2" width="49.0" height="75.99999999999999" fill="#242426"/>
<rect x="396" y="77.3" width="26.5" height="75.50000000000001" fill="#27272a"/>
<rect x="422.5" y="77.3" width="28.5" height="75.50000000000001" fill="#202023"/>
<rect x="453.4" y="77.6" width="21.600000000000023" height="75.4" fill="#252527"/>
<rect x="475" y="77.6" width="22.80000000000001" height="75.4" fill="#2a2a2c"/>
<g transform="translate(303.70,149.00) scale(1,-1)" filter="url(#soft)" ><clipPath id="m13"><path d="M0.00,0.00 C0.91,0.00 1.92,0.81 2.73,1.70 C3.54,2.59 4.30,4.00 4.83,5.33 C5.36,6.67 5.71,8.16 5.88,9.70 C6.06,11.24 5.50,12.93 5.88,14.55 C6.27,16.17 7.63,17.62 8.19,19.40 C8.75,21.18 9.03,23.12 9.24,25.22 C9.45,27.32 9.21,29.83 9.45,32.01 C9.70,34.19 10.68,36.38 10.71,38.32 C10.75,40.26 10.48,42.28 9.66,43.65 C8.84,45.02 7.39,45.75 5.78,46.56 C4.17,47.37 1.93,48.50 0.00,48.50 C-1.93,48.50 -4.17,47.37 -5.78,46.56 C-7.39,45.75 -8.84,45.02 -9.66,43.65 C-10.48,42.28 -10.75,40.26 -10.71,38.32 C-10.68,36.38 -9.70,34.19 -9.45,32.01 C-9.21,29.83 -9.45,27.32 -9.24,25.22 C-9.03,23.12 -8.75,21.18 -8.19,19.40 C-7.63,17.62 -6.27,16.17 -5.88,14.55 C-5.50,12.93 -6.06,11.24 -5.88,9.70 C-5.71,8.16 -5.36,6.67 -4.83,5.33 C-4.30,4.00 -3.54,2.59 -2.73,1.70 C-1.92,0.81 -0.91,0.00 0.00,0.00 Z"/></clipPath><path d="M0,47.5 Q0,61.0 -0.5,73.5" stroke="#b4b4ba" stroke-width="1.4" fill="none"/><circle cx="-7.56" cy="10.19" r="2.52" fill="#b8b8c8"/><circle cx="7.56" cy="10.19" r="2.52" fill="#b8b8c8"/><path d="M0.00,0.00 C0.91,0.00 1.92,0.81 2.73,1.70 C3.54,2.59 4.30,4.00 4.83,5.33 C5.36,6.67 5.71,8.16 5.88,9.70 C6.06,11.24 5.50,12.93 5.88,14.55 C6.27,16.17 7.63,17.62 8.19,19.40 C8.75,21.18 9.03,23.12 9.24,25.22 C9.45,27.32 9.21,29.83 9.45,32.01 C9.70,34.19 10.68,36.38 10.71,38.32 C10.75,40.26 10.48,42.28 9.66,43.65 C8.84,45.02 7.39,45.75 5.78,46.56 C4.17,47.37 1.93,48.50 0.00,48.50 C-1.93,48.50 -4.17,47.37 -5.78,46.56 C-7.39,45.75 -8.84,45.02 -9.66,43.65 C-10.48,42.28 -10.75,40.26 -10.71,38.32 C-10.68,36.38 -9.70,34.19 -9.45,32.01 C-9.21,29.83 -9.45,27.32 -9.24,25.22 C-9.03,23.12 -8.75,21.18 -8.19,19.40 C-7.63,17.62 -6.27,16.17 -5.88,14.55 C-5.50,12.93 -6.06,11.24 -5.88,9.70 C-5.71,8.16 -5.36,6.67 -4.83,5.33 C-4.30,4.00 -3.54,2.59 -2.73,1.70 C-1.92,0.81 -0.91,0.00 0.00,0.00 Z" fill="#5048c8"/><g clip-path="url(#m13)"><ellipse cx="0.53" cy="24.25" rx="5.50" ry="3.20" fill="#d4d4e4" opacity="1"/><ellipse cx="-8.61" cy="35.89" rx="2.20" ry="2.80" fill="#70c8a0" opacity="1"/><ellipse cx="-8.61" cy="35.89" rx="1.00" ry="1.20" fill="#e0e040" opacity="1"/><ellipse cx="8.61" cy="35.89" rx="2.20" ry="2.80" fill="#70c8a0" opacity="1"/><ellipse cx="8.61" cy="35.89" rx="1.00" ry="1.20" fill="#e0e040" opacity="1"/><ellipse cx="7.35" cy="10.67" rx="2.00" ry="2.00" fill="#c8c8e0" opacity="1"/></g></g>
<g transform="translate(331.20,79.00)" filter="url(#soft)" ><clipPath id="m14"><path d="M0.00,0.00 C0.93,0.00 1.97,0.77 2.79,1.61 C3.62,2.45 4.41,3.79 4.95,5.06 C5.48,6.32 5.84,7.74 6.02,9.20 C6.20,10.66 5.63,12.27 6.02,13.80 C6.41,15.33 7.81,16.71 8.38,18.40 C8.96,20.09 9.25,21.93 9.46,23.92 C9.68,25.91 9.42,28.29 9.68,30.36 C9.93,32.43 10.93,34.50 10.96,36.34 C11.00,38.18 10.73,40.10 9.89,41.40 C9.05,42.70 7.56,43.39 5.91,44.16 C4.26,44.93 1.97,46.00 0.00,46.00 C-1.97,46.00 -4.26,44.93 -5.91,44.16 C-7.56,43.39 -9.05,42.70 -9.89,41.40 C-10.73,40.10 -11.00,38.18 -10.96,36.34 C-10.93,34.50 -9.93,32.43 -9.68,30.36 C-9.42,28.29 -9.68,25.91 -9.46,23.92 C-9.25,21.93 -8.96,20.09 -8.38,18.40 C-7.81,16.71 -6.41,15.33 -6.02,13.80 C-5.63,12.27 -6.20,10.66 -6.02,9.20 C-5.84,7.74 -5.48,6.32 -4.95,5.06 C-4.41,3.79 -3.62,2.45 -2.79,1.61 C-1.97,0.77 -0.93,0.00 0.00,0.00 Z"/></clipPath><path d="M0,45 Q0,60.0 -0.5,74" stroke="#b4b4ba" stroke-width="1.4" fill="none"/><circle cx="-7.74" cy="9.66" r="2.58" fill="#b8b8c8"/><circle cx="7.74" cy="9.66" r="2.58" fill="#b8b8c8"/><path d="M0.00,0.00 C0.93,0.00 1.97,0.77 2.79,1.61 C3.62,2.45 4.41,3.79 4.95,5.06 C5.48,6.32 5.84,7.74 6.02,9.20 C6.20,10.66 5.63,12.27 6.02,13.80 C6.41,15.33 7.81,16.71 8.38,18.40 C8.96,20.09 9.25,21.93 9.46,23.92 C9.68,25.91 9.42,28.29 9.68,30.36 C9.93,32.43 10.93,34.50 10.96,36.34 C11.00,38.18 10.73,40.10 9.89,41.40 C9.05,42.70 7.56,43.39 5.91,44.16 C4.26,44.93 1.97,46.00 0.00,46.00 C-1.97,46.00 -4.26,44.93 -5.91,44.16 C-7.56,43.39 -9.05,42.70 -9.89,41.40 C-10.73,40.10 -11.00,38.18 -10.96,36.34 C-10.93,34.50 -9.93,32.43 -9.68,30.36 C-9.42,28.29 -9.68,25.91 -9.46,23.92 C-9.25,21.93 -8.96,20.09 -8.38,18.40 C-7.81,16.71 -6.41,15.33 -6.02,13.80 C-5.63,12.27 -6.20,10.66 -6.02,9.20 C-5.84,7.74 -5.48,6.32 -4.95,5.06 C-4.41,3.79 -3.62,2.45 -2.79,1.61 C-1.97,0.77 -0.93,0.00 0.00,0.00 Z" fill="#5048c8"/><g clip-path="url(#m14)"><ellipse cx="0.54" cy="27.60" rx="6.50" ry="4.20" fill="#e4e4ec" opacity="1"/><ellipse cx="-8.60" cy="34.96" rx="2.00" ry="2.60" fill="#70c8a0" opacity="1"/><ellipse cx="8.81" cy="34.96" rx="2.00" ry="2.60" fill="#e0c840" opacity="1"/><ellipse cx="8.81" cy="34.96" rx="0.90" ry="1.10" fill="#e04020" opacity="1"/><ellipse cx="5.91" cy="9.20" rx="2.00" ry="2.00" fill="#c8c8e0" opacity="1"/></g></g>
<g transform="translate(362.00,81.00)" filter="url(#soft)" ><clipPath id="m15"><path d="M0.00,0.00 C0.85,0.00 1.79,0.68 2.54,1.44 C3.28,2.19 4.00,3.38 4.49,4.51 C4.97,5.64 5.30,6.90 5.46,8.20 C5.62,9.50 5.10,10.93 5.46,12.30 C5.82,13.67 7.09,14.90 7.61,16.40 C8.12,17.90 8.38,19.54 8.58,21.32 C8.78,23.10 8.55,25.22 8.78,27.06 C9.00,28.91 9.91,30.75 9.95,32.39 C9.98,34.03 9.73,35.74 8.97,36.90 C8.21,38.06 6.86,38.68 5.36,39.36 C3.87,40.04 1.79,41.00 0.00,41.00 C-1.79,41.00 -3.87,40.04 -5.36,39.36 C-6.86,38.68 -8.21,38.06 -8.97,36.90 C-9.73,35.74 -9.98,34.03 -9.95,32.39 C-9.91,30.75 -9.00,28.91 -8.78,27.06 C-8.55,25.22 -8.78,23.10 -8.58,21.32 C-8.38,19.54 -8.12,17.90 -7.61,16.40 C-7.09,14.90 -5.82,13.67 -5.46,12.30 C-5.10,10.93 -5.62,9.50 -5.46,8.20 C-5.30,6.90 -4.97,5.64 -4.49,4.51 C-4.00,3.38 -3.28,2.19 -2.54,1.44 C-1.79,0.68 -0.85,0.00 0.00,0.00 Z"/></clipPath><path d="M0,40 Q0,56.5 -0.7,72" stroke="#b4b4ba" stroke-width="1.4" fill="none"/><circle cx="-7.02" cy="8.61" r="2.34" fill="#b8b8c8"/><circle cx="7.02" cy="8.61" r="2.34" fill="#b8b8c8"/><path d="M0.00,0.00 C0.85,0.00 1.79,0.68 2.54,1.44 C3.28,2.19 4.00,3.38 4.49,4.51 C4.97,5.64 5.30,6.90 5.46,8.20 C5.62,9.50 5.10,10.93 5.46,12.30 C5.82,13.67 7.09,14.90 7.61,16.40 C8.12,17.90 8.38,19.54 8.58,21.32 C8.78,23.10 8.55,25.22 8.78,27.06 C9.00,28.91 9.91,30.75 9.95,32.39 C9.98,34.03 9.73,35.74 8.97,36.90 C8.21,38.06 6.86,38.68 5.36,39.36 C3.87,40.04 1.79,41.00 0.00,41.00 C-1.79,41.00 -3.87,40.04 -5.36,39.36 C-6.86,38.68 -8.21,38.06 -8.97,36.90 C-9.73,35.74 -9.98,34.03 -9.95,32.39 C-9.91,30.75 -9.00,28.91 -8.78,27.06 C-8.55,25.22 -8.78,23.10 -8.58,21.32 C-8.38,19.54 -8.12,17.90 -7.61,16.40 C-7.09,14.90 -5.82,13.67 -5.46,12.30 C-5.10,10.93 -5.62,9.50 -5.46,8.20 C-5.30,6.90 -4.97,5.64 -4.49,4.51 C-4.00,3.38 -3.28,2.19 -2.54,1.44 C-1.79,0.68 -0.85,0.00 0.00,0.00 Z" fill="#5048c8"/><g clip-path="url(#m15)"><ellipse cx="1.46" cy="22.55" rx="3.20" ry="2.60" fill="#e0e0ec" opacity="1"/><ellipse cx="-2.44" cy="20.50" rx="1.80" ry="2.00" fill="#c0c0e4" opacity="1"/><ellipse cx="-7.31" cy="32.80" rx="2.00" ry="2.60" fill="#e0c840" opacity="1"/><ellipse cx="-7.31" cy="32.80" rx="0.90" ry="1.20" fill="#e04020" opacity="1"/><ellipse cx="3.90" cy="12.30" rx="1.60" ry="1.60" fill="#b8b8e0" opacity="1"/></g></g>
<g transform="translate(381.30,151.50) scale(1,-1)" filter="url(#soft)" ><clipPath id="m16"><path d="M0.00,0.00 C1.00,0.00 2.11,0.74 2.99,1.56 C3.87,2.37 4.71,3.67 5.29,4.90 C5.87,6.12 6.25,7.49 6.44,8.90 C6.63,10.31 6.02,11.87 6.44,13.35 C6.86,14.83 8.36,16.17 8.97,17.80 C9.58,19.43 9.89,21.21 10.12,23.14 C10.35,25.07 10.08,27.37 10.35,29.37 C10.62,31.37 11.69,33.38 11.73,35.16 C11.77,36.94 11.48,38.79 10.58,40.05 C9.68,41.31 8.09,41.98 6.33,42.72 C4.56,43.46 2.11,44.50 0.00,44.50 C-2.11,44.50 -4.56,43.46 -6.33,42.72 C-8.09,41.98 -9.68,41.31 -10.58,40.05 C-11.48,38.79 -11.77,36.94 -11.73,35.16 C-11.69,33.38 -10.62,31.37 -10.35,29.37 C-10.08,27.37 -10.35,25.07 -10.12,23.14 C-9.89,21.21 -9.58,19.43 -8.97,17.80 C-8.36,16.17 -6.86,14.83 -6.44,13.35 C-6.02,11.87 -6.63,10.31 -6.44,8.90 C-6.25,7.49 -5.87,6.12 -5.29,4.90 C-4.71,3.67 -3.87,2.37 -2.99,1.56 C-2.11,0.74 -1.00,0.00 0.00,0.00 Z"/></clipPath><path d="M0,43.5 Q0,60.0 -0.5,75.5" stroke="#b4b4ba" stroke-width="1.4" fill="none"/><circle cx="-8.28" cy="9.34" r="2.76" fill="#b8b8c8"/><circle cx="8.28" cy="9.34" r="2.76" fill="#b8b8c8"/><path d="M0.00,0.00 C1.00,0.00 2.11,0.74 2.99,1.56 C3.87,2.37 4.71,3.67 5.29,4.90 C5.87,6.12 6.25,7.49 6.44,8.90 C6.63,10.31 6.02,11.87 6.44,13.35 C6.86,14.83 8.36,16.17 8.97,17.80 C9.58,19.43 9.89,21.21 10.12,23.14 C10.35,25.07 10.08,27.37 10.35,29.37 C10.62,31.37 11.69,33.38 11.73,35.16 C11.77,36.94 11.48,38.79 10.58,40.05 C9.68,41.31 8.09,41.98 6.33,42.72 C4.56,43.46 2.11,44.50 0.00,44.50 C-2.11,44.50 -4.56,43.46 -6.33,42.72 C-8.09,41.98 -9.68,41.31 -10.58,40.05 C-11.48,38.79 -11.77,36.94 -11.73,35.16 C-11.69,33.38 -10.62,31.37 -10.35,29.37 C-10.08,27.37 -10.35,25.07 -10.12,23.14 C-9.89,21.21 -9.58,19.43 -8.97,17.80 C-8.36,16.17 -6.86,14.83 -6.44,13.35 C-6.02,11.87 -6.63,10.31 -6.44,8.90 C-6.25,7.49 -5.87,6.12 -5.29,4.90 C-4.71,3.67 -3.87,2.37 -2.99,1.56 C-2.11,0.74 -1.00,0.00 0.00,0.00 Z" fill="#5048c8"/><g clip-path="url(#m16)"><ellipse cx="-2.30" cy="26.70" rx="3.60" ry="3.20" fill="#e04020" opacity="1"/><ellipse cx="-2.30" cy="26.70" rx="2.20" ry="1.90" fill="#f0e040" opacity="1"/><ellipse cx="-2.30" cy="26.70" rx="1.00" ry="0.90" fill="#e04020" opacity="1"/><ellipse cx="5.17" cy="18.69" rx="2.50" ry="3.00" fill="#e0e0f0" opacity="1"/><ellipse cx="-6.33" cy="34.71" rx="2.00" ry="2.50" fill="#e0d040" opacity="1"/><ellipse cx="6.90" cy="33.38" rx="1.60" ry="2.00" fill="#b0c0f0" opacity="1"/></g></g>
<g transform="translate(407.70,150.30) scale(1,-1)" filter="url(#soft)" ><clipPath id="m17"><path d="M0.00,0.00 C1.00,0.00 2.11,0.77 2.99,1.62 C3.87,2.47 4.71,3.82 5.29,5.09 C5.87,6.37 6.25,7.79 6.44,9.26 C6.63,10.73 6.02,12.35 6.44,13.89 C6.86,15.43 8.36,16.82 8.97,18.52 C9.58,20.22 9.89,22.07 10.12,24.08 C10.35,26.08 10.08,28.47 10.35,30.56 C10.62,32.64 11.69,34.73 11.73,36.58 C11.77,38.43 11.48,40.36 10.58,41.67 C9.68,42.98 8.09,43.68 6.33,44.45 C4.56,45.22 2.11,46.30 0.00,46.30 C-2.11,46.30 -4.56,45.22 -6.33,44.45 C-8.09,43.68 -9.68,42.98 -10.58,41.67 C-11.48,40.36 -11.77,38.43 -11.73,36.58 C-11.69,34.73 -10.62,32.64 -10.35,30.56 C-10.08,28.47 -10.35,26.08 -10.12,24.08 C-9.89,22.07 -9.58,20.22 -8.97,18.52 C-8.36,16.82 -6.86,15.43 -6.44,13.89 C-6.02,12.35 -6.63,10.73 -6.44,9.26 C-6.25,7.79 -5.87,6.37 -5.29,5.09 C-4.71,3.82 -3.87,2.47 -2.99,1.62 C-2.11,0.77 -1.00,0.00 0.00,0.00 Z"/></clipPath><path d="M0,45.30000000000001 Q2,60.30000000000001 8,74.30000000000001" stroke="#b4b4ba" stroke-width="1.4" fill="none"/><circle cx="-8.28" cy="9.72" r="2.76" fill="#b8b8c8"/><circle cx="8.28" cy="9.72" r="2.76" fill="#b8b8c8"/><path d="M0.00,0.00 C1.00,0.00 2.11,0.77 2.99,1.62 C3.87,2.47 4.71,3.82 5.29,5.09 C5.87,6.37 6.25,7.79 6.44,9.26 C6.63,10.73 6.02,12.35 6.44,13.89 C6.86,15.43 8.36,16.82 8.97,18.52 C9.58,20.22 9.89,22.07 10.12,24.08 C10.35,26.08 10.08,28.47 10.35,30.56 C10.62,32.64 11.69,34.73 11.73,36.58 C11.77,38.43 11.48,40.36 10.58,41.67 C9.68,42.98 8.09,43.68 6.33,44.45 C4.56,45.22 2.11,46.30 0.00,46.30 C-2.11,46.30 -4.56,45.22 -6.33,44.45 C-8.09,43.68 -9.68,42.98 -10.58,41.67 C-11.48,40.36 -11.77,38.43 -11.73,36.58 C-11.69,34.73 -10.62,32.64 -10.35,30.56 C-10.08,28.47 -10.35,26.08 -10.12,24.08 C-9.89,22.07 -9.58,20.22 -8.97,18.52 C-8.36,16.82 -6.86,15.43 -6.44,13.89 C-6.02,12.35 -6.63,10.73 -6.44,9.26 C-6.25,7.79 -5.87,6.37 -5.29,5.09 C-4.71,3.82 -3.87,2.47 -2.99,1.62 C-2.11,0.77 -1.00,0.00 0.00,0.00 Z" fill="#cfcfd3"/><g clip-path="url(#m17)"><ellipse cx="-9.78" cy="38.89" rx="4.00" ry="6.00" fill="#5048c8" opacity="1"/><ellipse cx="9.20" cy="39.82" rx="3.50" ry="4.00" fill="#5048c8" opacity="1"/><ellipse cx="0.00" cy="45.37" rx="3.00" ry="1.50" fill="#7060d0" opacity="1"/><ellipse cx="-3.45" cy="4.63" rx="3.00" ry="3.00" fill="#5048c8" opacity="1"/><ellipse cx="3.45" cy="10.19" rx="2.50" ry="2.50" fill="#6a5ad0" opacity="1"/><ellipse cx="-6.90" cy="13.89" rx="2.00" ry="2.50" fill="#6a5ad0" opacity="1"/><ellipse cx="6.33" cy="3.70" rx="2.00" ry="2.00" fill="#6a5ad0" opacity="1"/></g></g>
<g transform="translate(438.30,80.00)" filter="url(#soft)" ><clipPath id="m18"><path d="M0.00,0.00 C1.00,0.00 2.11,0.75 2.99,1.58 C3.87,2.40 4.71,3.71 5.29,4.95 C5.87,6.19 6.25,7.58 6.44,9.00 C6.63,10.43 6.02,12.00 6.44,13.50 C6.86,15.00 8.36,16.35 8.97,18.00 C9.58,19.65 9.89,21.45 10.12,23.40 C10.35,25.35 10.08,27.68 10.35,29.70 C10.62,31.73 11.69,33.75 11.73,35.55 C11.77,37.35 11.48,39.23 10.58,40.50 C9.68,41.77 8.09,42.45 6.33,43.20 C4.56,43.95 2.11,45.00 0.00,45.00 C-2.11,45.00 -4.56,43.95 -6.33,43.20 C-8.09,42.45 -9.68,41.77 -10.58,40.50 C-11.48,39.23 -11.77,37.35 -11.73,35.55 C-11.69,33.75 -10.62,31.73 -10.35,29.70 C-10.08,27.68 -10.35,25.35 -10.12,23.40 C-9.89,21.45 -9.58,19.65 -8.97,18.00 C-8.36,16.35 -6.86,15.00 -6.44,13.50 C-6.02,12.00 -6.63,10.43 -6.44,9.00 C-6.25,7.58 -5.87,6.19 -5.29,4.95 C-4.71,3.71 -3.87,2.40 -2.99,1.58 C-2.11,0.75 -1.00,0.00 0.00,0.00 Z"/></clipPath><path d="M0,44 Q0,59.0 2.5,73" stroke="#b4b4ba" stroke-width="1.4" fill="none"/><circle cx="-8.28" cy="9.45" r="2.76" fill="#b8b8c8"/><circle cx="8.28" cy="9.45" r="2.76" fill="#b8b8c8"/><path d="M0.00,0.00 C1.00,0.00 2.11,0.75 2.99,1.58 C3.87,2.40 4.71,3.71 5.29,4.95 C5.87,6.19 6.25,7.58 6.44,9.00 C6.63,10.43 6.02,12.00 6.44,13.50 C6.86,15.00 8.36,16.35 8.97,18.00 C9.58,19.65 9.89,21.45 10.12,23.40 C10.35,25.35 10.08,27.68 10.35,29.70 C10.62,31.73 11.69,33.75 11.73,35.55 C11.77,37.35 11.48,39.23 10.58,40.50 C9.68,41.77 8.09,42.45 6.33,43.20 C4.56,43.95 2.11,45.00 0.00,45.00 C-2.11,45.00 -4.56,43.95 -6.33,43.20 C-8.09,42.45 -9.68,41.77 -10.58,40.50 C-11.48,39.23 -11.77,37.35 -11.73,35.55 C-11.69,33.75 -10.62,31.73 -10.35,29.70 C-10.08,27.68 -10.35,25.35 -10.12,23.40 C-9.89,21.45 -9.58,19.65 -8.97,18.00 C-8.36,16.35 -6.86,15.00 -6.44,13.50 C-6.02,12.00 -6.63,10.43 -6.44,9.00 C-6.25,7.58 -5.87,6.19 -5.29,4.95 C-4.71,3.71 -3.87,2.40 -2.99,1.58 C-2.11,0.75 -1.00,0.00 0.00,0.00 Z" fill="#cfcfd3"/><g clip-path="url(#m18)"><ellipse cx="-9.20" cy="36.00" rx="3.00" ry="4.20" fill="#5048c8" opacity="1"/><ellipse cx="9.20" cy="36.00" rx="3.00" ry="4.20" fill="#5048c8" opacity="1"/><ellipse cx="0.00" cy="39.60" rx="2.00" ry="1.60" fill="#5048c8" opacity="1"/><ellipse cx="-8.05" cy="14.40" rx="2.20" ry="2.60" fill="#6a5ad0" opacity="1"/><ellipse cx="8.05" cy="14.40" rx="2.20" ry="2.60" fill="#6a5ad0" opacity="1"/></g></g>
<g transform="translate(465.00,82.00)" filter="url(#soft)" ><clipPath id="m19"><path d="M0.00,0.00 C0.80,0.00 1.70,0.75 2.41,1.58 C3.11,2.40 3.79,3.71 4.25,4.95 C4.72,6.19 5.03,7.58 5.18,9.00 C5.33,10.43 4.84,12.00 5.18,13.50 C5.52,15.00 6.72,16.35 7.21,18.00 C7.71,19.65 7.96,21.45 8.14,23.40 C8.33,25.35 8.11,27.68 8.33,29.70 C8.54,31.73 9.40,33.75 9.44,35.55 C9.47,37.35 9.23,39.23 8.51,40.50 C7.79,41.77 6.51,42.45 5.09,43.20 C3.67,43.95 1.70,45.00 0.00,45.00 C-1.70,45.00 -3.67,43.95 -5.09,43.20 C-6.51,42.45 -7.79,41.77 -8.51,40.50 C-9.23,39.23 -9.47,37.35 -9.44,35.55 C-9.40,33.75 -8.54,31.73 -8.33,29.70 C-8.11,27.68 -8.33,25.35 -8.14,23.40 C-7.96,21.45 -7.71,19.65 -7.21,18.00 C-6.72,16.35 -5.52,15.00 -5.18,13.50 C-4.84,12.00 -5.33,10.43 -5.18,9.00 C-5.03,7.58 -4.72,6.19 -4.25,4.95 C-3.79,3.71 -3.11,2.40 -2.41,1.58 C-1.70,0.75 -0.80,0.00 0.00,0.00 Z"/></clipPath><path d="M0,44 Q0,58.0 2,71" stroke="#b4b4ba" stroke-width="1.4" fill="none"/><circle cx="-6.66" cy="9.45" r="2.22" fill="#b8b8c8"/><circle cx="6.66" cy="9.45" r="2.22" fill="#b8b8c8"/><path d="M0.00,0.00 C0.80,0.00 1.70,0.75 2.41,1.58 C3.11,2.40 3.79,3.71 4.25,4.95 C4.72,6.19 5.03,7.58 5.18,9.00 C5.33,10.43 4.84,12.00 5.18,13.50 C5.52,15.00 6.72,16.35 7.21,18.00 C7.71,19.65 7.96,21.45 8.14,23.40 C8.33,25.35 8.11,27.68 8.33,29.70 C8.54,31.73 9.40,33.75 9.44,35.55 C9.47,37.35 9.23,39.23 8.51,40.50 C7.79,41.77 6.51,42.45 5.09,43.20 C3.67,43.95 1.70,45.00 0.00,45.00 C-1.70,45.00 -3.67,43.95 -5.09,43.20 C-6.51,42.45 -7.79,41.77 -8.51,40.50 C-9.23,39.23 -9.47,37.35 -9.44,35.55 C-9.40,33.75 -8.54,31.73 -8.33,29.70 C-8.11,27.68 -8.33,25.35 -8.14,23.40 C-7.96,21.45 -7.71,19.65 -7.21,18.00 C-6.72,16.35 -5.52,15.00 -5.18,13.50 C-4.84,12.00 -5.33,10.43 -5.18,9.00 C-5.03,7.58 -4.72,6.19 -4.25,4.95 C-3.79,3.71 -3.11,2.40 -2.41,1.58 C-1.70,0.75 -0.80,0.00 0.00,0.00 Z" fill="#ccccd0"/><g clip-path="url(#m19)"><ellipse cx="-7.40" cy="36.90" rx="2.50" ry="3.20" fill="#5a48d0" opacity="1"/><ellipse cx="5.09" cy="36.90" rx="3.20" ry="3.20" fill="#5a48d0" opacity="1"/><ellipse cx="5.09" cy="36.90" rx="1.20" ry="1.20" fill="#8a80e0" opacity="1"/></g></g>
<g transform="translate(486.00,149.30) scale(1,-1)" filter="url(#soft)" ><clipPath id="m20"><path d="M0.00,0.00 C0.85,0.00 1.79,0.86 2.54,1.80 C3.28,2.74 4.00,4.23 4.49,5.64 C4.97,7.05 5.30,8.64 5.46,10.26 C5.62,11.88 5.10,13.68 5.46,15.39 C5.82,17.10 7.09,18.64 7.61,20.52 C8.12,22.40 8.38,24.45 8.58,26.68 C8.78,28.90 8.55,31.55 8.78,33.86 C9.00,36.17 9.91,38.48 9.95,40.53 C9.98,42.58 9.73,44.72 8.97,46.17 C8.21,47.62 6.86,48.39 5.36,49.25 C3.87,50.10 1.79,51.30 0.00,51.30 C-1.79,51.30 -3.87,50.10 -5.36,49.25 C-6.86,48.39 -8.21,47.62 -8.97,46.17 C-9.73,44.72 -9.98,42.58 -9.95,40.53 C-9.91,38.48 -9.00,36.17 -8.78,33.86 C-8.55,31.55 -8.78,28.90 -8.58,26.68 C-8.38,24.45 -8.12,22.40 -7.61,20.52 C-7.09,18.64 -5.82,17.10 -5.46,15.39 C-5.10,13.68 -5.62,11.88 -5.46,10.26 C-5.30,8.64 -4.97,7.05 -4.49,5.64 C-4.00,4.23 -3.28,2.74 -2.54,1.80 C-1.79,0.86 -0.85,0.00 0.00,0.00 Z"/></clipPath><path d="M0,50.30000000000001 Q0,60.30000000000001 -2,69.30000000000001" stroke="#b4b4ba" stroke-width="1.4" fill="none"/><circle cx="-7.02" cy="10.77" r="2.34" fill="#b8b8c8"/><circle cx="7.02" cy="10.77" r="2.34" fill="#b8b8c8"/><path d="M0.00,0.00 C0.85,0.00 1.79,0.86 2.54,1.80 C3.28,2.74 4.00,4.23 4.49,5.64 C4.97,7.05 5.30,8.64 5.46,10.26 C5.62,11.88 5.10,13.68 5.46,15.39 C5.82,17.10 7.09,18.64 7.61,20.52 C8.12,22.40 8.38,24.45 8.58,26.68 C8.78,28.90 8.55,31.55 8.78,33.86 C9.00,36.17 9.91,38.48 9.95,40.53 C9.98,42.58 9.73,44.72 8.97,46.17 C8.21,47.62 6.86,48.39 5.36,49.25 C3.87,50.10 1.79,51.30 0.00,51.30 C-1.79,51.30 -3.87,50.10 -5.36,49.25 C-6.86,48.39 -8.21,47.62 -8.97,46.17 C-9.73,44.72 -9.98,42.58 -9.95,40.53 C-9.91,38.48 -9.00,36.17 -8.78,33.86 C-8.55,31.55 -8.78,28.90 -8.58,26.68 C-8.38,24.45 -8.12,22.40 -7.61,20.52 C-7.09,18.64 -5.82,17.10 -5.46,15.39 C-5.10,13.68 -5.62,11.88 -5.46,10.26 C-5.30,8.64 -4.97,7.05 -4.49,5.64 C-4.00,4.23 -3.28,2.74 -2.54,1.80 C-1.79,0.86 -0.85,0.00 0.00,0.00 Z" fill="#dadadc"/><g clip-path="url(#m20)"><ellipse cx="-7.80" cy="41.04" rx="1.80" ry="2.40" fill="#6a5ad0" opacity="1"/><ellipse cx="7.80" cy="41.04" rx="1.80" ry="2.40" fill="#6a5ad0" opacity="1"/></g></g>
<rect x="498" y="65.8" width="5.6" height="94" fill="url(#cbar)"/>
<line x1="497.9" y1="63.2" x2="520" y2="63.2" stroke="#3a3a3a" stroke-width="1.1"/>
<line x1="503.6" y1="161.8" x2="518" y2="161.8" stroke="#888" stroke-width="0.8"/>
<line x1="503.6" y1="65.8" x2="505.6" y2="65.8" stroke="#777" stroke-width="0.7"/>
<text x="505.80" y="67.60" font-size="5" fill="#888" text-anchor="start" textLength="5.00" lengthAdjust="spacingAndGlyphs" >100</text>
<line x1="503.6" y1="84.7" x2="505.6" y2="84.7" stroke="#777" stroke-width="0.7"/>
<text x="505.80" y="86.50" font-size="5" fill="#888" text-anchor="start" textLength="4.00" lengthAdjust="spacingAndGlyphs" >80</text>
<line x1="503.6" y1="103.8" x2="505.6" y2="103.8" stroke="#777" stroke-width="0.7"/>
<text x="505.80" y="105.60" font-size="5" fill="#888" text-anchor="start" textLength="4.00" lengthAdjust="spacingAndGlyphs" >60</text>
<line x1="503.6" y1="122.2" x2="505.6" y2="122.2" stroke="#777" stroke-width="0.7"/>
<text x="505.80" y="124.00" font-size="5" fill="#888" text-anchor="start" textLength="4.00" lengthAdjust="spacingAndGlyphs" >40</text>
<line x1="503.6" y1="140.2" x2="505.6" y2="140.2" stroke="#777" stroke-width="0.7"/>
<text x="505.80" y="142.00" font-size="5" fill="#888" text-anchor="start" textLength="4.00" lengthAdjust="spacingAndGlyphs" >20</text>
<text transform="translate(516.00,117.00) rotate(-90)" x="0" y="0" font-size="4.5" fill="#666" textLength="10.00" lengthAdjust="spacingAndGlyphs">p/sec</text>
<text x="296.10" y="165.00" font-size="8.7" fill="#1a1a1a" text-anchor="start" textLength="11.10" lengthAdjust="spacingAndGlyphs" >A1</text>
<text x="318.60" y="165.00" font-size="8.7" fill="#1a1a1a" text-anchor="start" textLength="10.40" lengthAdjust="spacingAndGlyphs" >A3</text>
<text x="348.60" y="165.00" font-size="8.7" fill="#1a1a1a" text-anchor="start" textLength="11.60" lengthAdjust="spacingAndGlyphs" >A0</text>
<text x="370.40" y="165.00" font-size="8.7" fill="#1a1a1a" text-anchor="start" textLength="16.30" lengthAdjust="spacingAndGlyphs" >C10</text>
<text x="396.90" y="165.00" font-size="8.7" fill="#1a1a1a" text-anchor="start" textLength="15.60" lengthAdjust="spacingAndGlyphs" >A10</text>
<text x="426.90" y="165.00" font-size="8.7" fill="#1a1a1a" text-anchor="start" textLength="11.00" lengthAdjust="spacingAndGlyphs" >C3</text>
<text x="456.90" y="165.00" font-size="8.7" fill="#1a1a1a" text-anchor="start" textLength="12.10" lengthAdjust="spacingAndGlyphs" >C0</text>
<text x="480.00" y="165.00" font-size="8.7" fill="#1a1a1a" text-anchor="start" textLength="10.20" lengthAdjust="spacingAndGlyphs" >C1</text>
<text x="296.50" y="179.70" font-size="10" fill="#1a1a1a" text-anchor="start" textLength="33.10" lengthAdjust="spacingAndGlyphs" >Vehicle</text>
<text x="350.30" y="175.00" font-size="10" fill="#1a1a1a" text-anchor="start" textLength="35.40" lengthAdjust="spacingAndGlyphs" >imatinib</text>
<text x="401.50" y="175.00" font-size="10" fill="#1a1a1a" text-anchor="start" textLength="35.30" lengthAdjust="spacingAndGlyphs" >nilotinib</text>
<text x="455.50" y="175.00" font-size="10" fill="#1a1a1a" text-anchor="start" textLength="34.40" lengthAdjust="spacingAndGlyphs" >nilotinib</text>
<text x="344.50" y="186.60" font-size="10" fill="#1a1a1a" text-anchor="start" textLength="48.80" lengthAdjust="spacingAndGlyphs" >(50 mg/kg)</text>
<text x="395.50" y="186.60" font-size="10" fill="#1a1a1a" text-anchor="start" textLength="49.40" lengthAdjust="spacingAndGlyphs" >(20 mg/kg)</text>
<text x="451.00" y="186.60" font-size="10" fill="#1a1a1a" text-anchor="start" textLength="40.10" lengthAdjust="spacingAndGlyphs" >+imatinib</text>
<text x="6.70" y="150.00" font-size="14.5" font-weight="bold" fill="#000" text-anchor="start" textLength="9.60" lengthAdjust="spacingAndGlyphs" stroke="#000" stroke-width="0.3">B</text>
<text transform="translate(32.00,245.60) rotate(-90)" x="0" y="0" font-size="9" font-weight="bold" fill="#111" textLength="113.20" lengthAdjust="spacingAndGlyphs">Tumor Burden (% baseline)</text>
<line x1="51.3" y1="149" x2="51.3" y2="240.3" stroke="#000" stroke-width="1.6"/>
<line x1="50.5" y1="239.3" x2="147.5" y2="239.3" stroke="#000" stroke-width="1.6"/>
<line x1="49" y1="239.30" x2="51.3" y2="239.30" stroke="#000" stroke-width="1"/>
<text x="48.30" y="241.60" font-size="6.6" fill="#333" text-anchor="end" textLength="2.70" lengthAdjust="spacingAndGlyphs" >0</text>
<line x1="49" y1="228.20" x2="51.3" y2="228.20" stroke="#000" stroke-width="1"/>
<text x="48.30" y="230.50" font-size="6.6" fill="#333" text-anchor="end" textLength="13.20" lengthAdjust="spacingAndGlyphs" >10000</text>
<line x1="49" y1="217.10" x2="51.3" y2="217.10" stroke="#000" stroke-width="1"/>
<text x="48.30" y="219.40" font-size="6.6" fill="#333" text-anchor="end" textLength="13.20" lengthAdjust="spacingAndGlyphs" >20000</text>
<line x1="49" y1="206.00" x2="51.3" y2="206.00" stroke="#000" stroke-width="1"/>
<text x="48.30" y="208.30" font-size="6.6" fill="#333" text-anchor="end" textLength="13.20" lengthAdjust="spacingAndGlyphs" >30000</text>
<line x1="49" y1="194.90" x2="51.3" y2="194.90" stroke="#000" stroke-width="1"/>
<text x="48.30" y="197.20" font-size="6.6" fill="#333" text-anchor="end" textLength="13.20" lengthAdjust="spacingAndGlyphs" >40000</text>
<line x1="49" y1="183.80" x2="51.3" y2="183.80" stroke="#000" stroke-width="1"/>
<text x="48.30" y="186.10" font-size="6.6" fill="#333" text-anchor="end" textLength="13.20" lengthAdjust="spacingAndGlyphs" >50000</text>
<line x1="49" y1="172.70" x2="51.3" y2="172.70" stroke="#000" stroke-width="1"/>
<text x="48.30" y="175.00" font-size="6.6" fill="#333" text-anchor="end" textLength="13.20" lengthAdjust="spacingAndGlyphs" >60000</text>
<line x1="49" y1="161.60" x2="51.3" y2="161.60" stroke="#000" stroke-width="1"/>
<text x="48.30" y="163.90" font-size="6.6" fill="#333" text-anchor="end" textLength="13.20" lengthAdjust="spacingAndGlyphs" >70000</text>
<line x1="49" y1="150.50" x2="51.3" y2="150.50" stroke="#000" stroke-width="1"/>
<text x="48.30" y="152.80" font-size="6.6" fill="#333" text-anchor="end" textLength="13.20" lengthAdjust="spacingAndGlyphs" >80000</text>
<line x1="51.30" y1="239.3" x2="51.30" y2="241.5" stroke="#000" stroke-width="1"/>
<text x="51.30" y="251.40" font-size="7" fill="#444" text-anchor="middle" textLength="2.60" lengthAdjust="spacingAndGlyphs" >0</text>
<line x1="70.50" y1="239.3" x2="70.50" y2="241.5" stroke="#000" stroke-width="1"/>
<text x="70.50" y="251.40" font-size="7" fill="#444" text-anchor="middle" textLength="2.60" lengthAdjust="spacingAndGlyphs" >2</text>
<line x1="89.70" y1="239.3" x2="89.70" y2="241.5" stroke="#000" stroke-width="1"/>
<text x="89.70" y="251.40" font-size="7" fill="#444" text-anchor="middle" textLength="2.60" lengthAdjust="spacingAndGlyphs" >4</text>
<line x1="108.90" y1="239.3" x2="108.90" y2="241.5" stroke="#000" stroke-width="1"/>
<text x="108.90" y="251.40" font-size="7" fill="#444" text-anchor="middle" textLength="2.60" lengthAdjust="spacingAndGlyphs" >6</text>
<line x1="128.10" y1="239.3" x2="128.10" y2="241.5" stroke="#000" stroke-width="1"/>
<text x="128.10" y="251.40" font-size="7" fill="#444" text-anchor="middle" textLength="2.60" lengthAdjust="spacingAndGlyphs" >8</text>
<line x1="147.30" y1="239.3" x2="147.30" y2="241.5" stroke="#000" stroke-width="1"/>
<text x="147.30" y="251.40" font-size="7" fill="#444" text-anchor="middle" textLength="5.20" lengthAdjust="spacingAndGlyphs" >10</text>
<text x="57.60" y="265.80" font-size="8.6" font-weight="bold" fill="#111" text-anchor="start" textLength="90.40" lengthAdjust="spacingAndGlyphs" >Days post-IV injection</text>
<line x1="60.9" y1="239.3" x2="128.1" y2="172.145" stroke="#4a68bc" stroke-width="2" stroke-dasharray="9,4.5"/>
<line x1="61.9" y1="238.3" x2="123.1" y2="197.9" stroke="#000" stroke-width="2.4" stroke-dasharray="2.6,4.4"/>
<line x1="60.9" y1="239.078" x2="128.1" y2="230.42000000000002" stroke="#9a3424" stroke-width="2.3"/>
<line x1="60.9" y1="238.967" x2="128.1" y2="236.525" stroke="#a0a0a0" stroke-width="1.6"/>
<line x1="128.9" y1="158.5" x2="128.9" y2="184.7" stroke="#000" stroke-width="1.4"/>
<line x1="125.9" y1="158.5" x2="131.9" y2="158.5" stroke="#000" stroke-width="1.4"/>
<line x1="125.9" y1="184.7" x2="131.9" y2="184.7" stroke="#000" stroke-width="1.4"/>
<line x1="128.9" y1="178.8" x2="128.9" y2="210.2" stroke="#000" stroke-width="1.4"/>
<line x1="125.9" y1="178.8" x2="131.9" y2="178.8" stroke="#000" stroke-width="1.4"/>
<line x1="125.9" y1="210.2" x2="131.9" y2="210.2" stroke="#000" stroke-width="1.4"/>
<line x1="61" y1="234.5" x2="61" y2="239" stroke="#666" stroke-width="1.2"/>
<line x1="59.2" y1="234.5" x2="62.8" y2="234.5" stroke="#666" stroke-width="1.2"/>
<line x1="59.2" y1="239" x2="62.8" y2="239" stroke="#666" stroke-width="1.2"/>
<circle cx="61" cy="237.3" r="3.2" fill="#a03828"/>
<path d="M61,233.5 L63.975,237 L61,240.5 L58.025,237 Z" fill="#5a78d0"/>
<rect x="57.8" y="234.3" width="6.4" height="6.4" fill="#a8a8a8"/>
<path d="M128.9,166.8 L133.3,171.4 L128.9,176 L124.5,171.4 Z" fill="#5a70c8"/>
<path d="M128.9,186.4 L133.8,198.3 L124,198.3 Z" fill="#000"/>
<circle cx="128.9" cy="228.5" r="3.6" fill="#a03828"/>
<rect x="125.9" y="231.5" width="6.0" height="6.0" fill="#a8a8a8"/>
<rect x="147.2" y="132.4" width="73.6" height="100.6" fill="none" stroke="#000" stroke-width="2"/>
<line x1="152.3" y1="140.1" x2="162" y2="140.1" stroke="#4c5ab4" stroke-width="1.8"/>
<line x1="168" y1="140.1" x2="177.2" y2="140.1" stroke="#4c5ab4" stroke-width="1.8"/>
<path d="M165.85,137.3 L168,140.6 L165.85,143.8 L163.7,140.6 Z" fill="#4c5ab4"/>
<line x1="151.8" y1="163.8" x2="180.9" y2="163.8" stroke="#7a3030" stroke-width="1.6"/>
<circle cx="165.8" cy="163.8" r="2.3" fill="#a03030"/>
<line x1="152.2" y1="187.3" x2="181" y2="187.3" stroke="#000" stroke-width="1.8" stroke-dasharray="2.8,5.7"/>
<path d="M166.1,183.8 L168.3,190.4 L163.9,190.4 Z" fill="#000"/>
<line x1="152" y1="210.9" x2="181" y2="210.9" stroke="#a8a8a8" stroke-width="1.6"/>
<rect x="163.5" y="207" width="6.2" height="8.6" fill="#a8a8a8"/>
<text x="182.40" y="143.40" font-size="9.4" fill="#1a1a1a" text-anchor="start" textLength="25.00" lengthAdjust="spacingAndGlyphs" stroke="#1a1a1a" stroke-width="0.15">Vehicle</text>
<text x="182.40" y="167.20" font-size="9.4" fill="#1a1a1a" text-anchor="start" textLength="24.20" lengthAdjust="spacingAndGlyphs" stroke="#1a1a1a" stroke-width="0.15">nilotinib</text>
<text x="182.40" y="179.60" font-size="9.4" fill="#1a1a1a" text-anchor="start" textLength="33.70" lengthAdjust="spacingAndGlyphs" stroke="#1a1a1a" stroke-width="0.15">(15mg/kg)</text>
<text x="182.30" y="190.50" font-size="9.4" fill="#1a1a1a" text-anchor="start" textLength="24.60" lengthAdjust="spacingAndGlyphs" stroke="#1a1a1a" stroke-width="0.15">imatinib</text>
<text x="182.30" y="203.00" font-size="9.4" fill="#1a1a1a" text-anchor="start" textLength="34.00" lengthAdjust="spacingAndGlyphs" stroke="#1a1a1a" stroke-width="0.15">(50mg/kg)</text>
<text x="182.30" y="214.00" font-size="9.4" fill="#1a1a1a" text-anchor="start" textLength="31.70" lengthAdjust="spacingAndGlyphs" stroke="#1a1a1a" stroke-width="0.15">nilotinib +</text>
<text x="182.30" y="227.30" font-size="9.4" fill="#1a1a1a" text-anchor="start" textLength="23.80" lengthAdjust="spacingAndGlyphs" stroke="#1a1a1a" stroke-width="0.15">imatinib</text>
<text x="10.60" y="281.60" font-size="15" font-weight="bold" fill="#000" text-anchor="start" textLength="10.40" lengthAdjust="spacingAndGlyphs" stroke="#000" stroke-width="0.3">C</text>
<text transform="translate(16.70,340.00) rotate(-90)" x="0" y="0" font-size="8.5" font-weight="bold" fill="#111" textLength="46.00" lengthAdjust="spacingAndGlyphs">Percentage</text>
<line x1="38.3" y1="284" x2="38.3" y2="359" stroke="#000" stroke-width="1.2"/>
<line x1="37.6" y1="358.3" x2="239.4" y2="358.3" stroke="#000" stroke-width="1.2"/>
<line x1="35.5" y1="358.30" x2="38.3" y2="358.30" stroke="#000" stroke-width="0.9"/>
<text x="33.20" y="360.70" font-size="6.6" fill="#333" text-anchor="end" textLength="2.80" lengthAdjust="spacingAndGlyphs" >0</text>
<line x1="35.5" y1="346.05" x2="38.3" y2="346.05" stroke="#000" stroke-width="0.9"/>
<text x="33.20" y="348.45" font-size="6.6" fill="#333" text-anchor="end" textLength="9.20" lengthAdjust="spacingAndGlyphs" >0.5</text>
<line x1="35.5" y1="333.80" x2="38.3" y2="333.80" stroke="#000" stroke-width="0.9"/>
<text x="33.20" y="336.20" font-size="6.6" fill="#333" text-anchor="end" textLength="2.80" lengthAdjust="spacingAndGlyphs" >1</text>
<line x1="35.5" y1="321.55" x2="38.3" y2="321.55" stroke="#000" stroke-width="0.9"/>
<text x="33.20" y="323.95" font-size="6.6" fill="#333" text-anchor="end" textLength="9.20" lengthAdjust="spacingAndGlyphs" >1.5</text>
<line x1="35.5" y1="309.30" x2="38.3" y2="309.30" stroke="#000" stroke-width="0.9"/>
<text x="33.20" y="311.70" font-size="6.6" fill="#333" text-anchor="end" textLength="2.80" lengthAdjust="spacingAndGlyphs" >2</text>
<line x1="35.5" y1="297.05" x2="38.3" y2="297.05" stroke="#000" stroke-width="0.9"/>
<text x="33.20" y="299.45" font-size="6.6" fill="#333" text-anchor="end" textLength="9.20" lengthAdjust="spacingAndGlyphs" >2.5</text>
<line x1="35.5" y1="284.80" x2="38.3" y2="284.80" stroke="#000" stroke-width="0.9"/>
<text x="33.20" y="287.20" font-size="6.6" fill="#333" text-anchor="end" textLength="2.80" lengthAdjust="spacingAndGlyphs" >3</text>
<line x1="89.7" y1="358.3" x2="89.7" y2="361" stroke="#000" stroke-width="0.9"/>
<line x1="141.2" y1="358.3" x2="141.2" y2="361" stroke="#000" stroke-width="0.9"/>
<line x1="189.8" y1="358.3" x2="189.8" y2="361" stroke="#000" stroke-width="0.9"/>
<line x1="239.4" y1="358.3" x2="239.4" y2="361" stroke="#000" stroke-width="0.9"/>
<rect x="53.3" y="294.60" width="21.60" height="63.70" fill="#8c8fd6" stroke="#20205a" stroke-width="1"/>
<line x1="64.1" y1="289.4" x2="64.1" y2="301.3" stroke="#111" stroke-width="1"/>
<line x1="61.3" y1="289.4" x2="66.89999999999999" y2="289.4" stroke="#111" stroke-width="1"/>
<line x1="61.3" y1="301.3" x2="66.89999999999999" y2="301.3" stroke="#111" stroke-width="1"/>
<rect x="103.7" y="309.30" width="20.40" height="49.00" fill="#8c8fd6" stroke="#20205a" stroke-width="1"/>
<line x1="113.9" y1="294.6" x2="113.9" y2="323.8" stroke="#111" stroke-width="1"/>
<line x1="111.10000000000001" y1="294.6" x2="116.7" y2="294.6" stroke="#111" stroke-width="1"/>
<line x1="111.10000000000001" y1="323.8" x2="116.7" y2="323.8" stroke="#111" stroke-width="1"/>
<rect x="153.3" y="328.90" width="21.20" height="29.40" fill="#8c8fd6" stroke="#20205a" stroke-width="1"/>
<line x1="163.9" y1="322.5" x2="163.9" y2="336.3" stroke="#111" stroke-width="1"/>
<line x1="161.1" y1="322.5" x2="166.70000000000002" y2="322.5" stroke="#111" stroke-width="1"/>
<line x1="161.1" y1="336.3" x2="166.70000000000002" y2="336.3" stroke="#111" stroke-width="1"/>
<rect x="204" y="331.35" width="20.60" height="26.95" fill="#8c8fd6" stroke="#20205a" stroke-width="1"/>
<line x1="214.3" y1="328.4" x2="214.3" y2="334.2" stroke="#111" stroke-width="1"/>
<line x1="211.5" y1="328.4" x2="217.10000000000002" y2="328.4" stroke="#111" stroke-width="1"/>
<line x1="211.5" y1="334.2" x2="217.10000000000002" y2="334.2" stroke="#111" stroke-width="1"/>
<rect x="141" y="290.5" width="96" height="28" fill="#fff" stroke="#000" stroke-width="1.2"/>
<rect x="161.5" y="294.3" width="5.6" height="3.8" fill="#8c8fd6" stroke="#20205a" stroke-width="0.8"/>
<text x="169.20" y="298.90" font-size="7.8" fill="#222" text-anchor="start" textLength="32.80" lengthAdjust="spacingAndGlyphs" >Percent</text>
<text x="169.20" y="306.80" font-size="7.8" fill="#222" text-anchor="start" textLength="52.60" lengthAdjust="spacingAndGlyphs" >Spleen/Total</text>
<text x="168.40" y="315.50" font-size="7.8" fill="#222" text-anchor="start" textLength="31.20" lengthAdjust="spacingAndGlyphs" >Weight</text>
<text x="48.20" y="375.20" font-size="9" font-weight="bold" fill="#111" text-anchor="start" textLength="31.30" lengthAdjust="spacingAndGlyphs" >Vehicle</text>
<text x="95.30" y="371.20" font-size="9" font-weight="bold" fill="#111" text-anchor="start" textLength="34.00" lengthAdjust="spacingAndGlyphs" >imatinib</text>
<text x="92.60" y="381.00" font-size="9" font-weight="bold" fill="#111" text-anchor="start" textLength="40.80" lengthAdjust="spacingAndGlyphs" >(50mg/kg)</text>
<text x="149.20" y="371.20" font-size="9" font-weight="bold" fill="#111" text-anchor="start" textLength="32.80" lengthAdjust="spacingAndGlyphs" >nilotinib</text>
<text x="144.70" y="381.00" font-size="9" font-weight="bold" fill="#111" text-anchor="start" textLength="41.70" lengthAdjust="spacingAndGlyphs" >(15mg/kg)</text>
<text x="194.90" y="371.20" font-size="9" font-weight="bold" fill="#111" text-anchor="start" textLength="38.70" lengthAdjust="spacingAndGlyphs" >nilotinib+</text>
<text x="196.90" y="381.00" font-size="9" font-weight="bold" fill="#111" text-anchor="start" textLength="33.70" lengthAdjust="spacingAndGlyphs" >imatinib</text>
<text x="306.70" y="210.00" font-size="15.5" font-weight="bold" fill="#000" text-anchor="start" textLength="9.40" lengthAdjust="spacingAndGlyphs" stroke="#000" stroke-width="0.3">E</text>
<text transform="translate(315.30,329.30) rotate(-90)" x="0" y="0" font-size="10" font-weight="bold" fill="#111" textLength="104.30" lengthAdjust="spacingAndGlyphs">Tumor Burden (% baseline)</text>
<line x1="328.8" y1="230.4" x2="328.8" y2="307.2" stroke="#000" stroke-width="1.6"/>
<line x1="328" y1="306.4" x2="435.5" y2="306.4" stroke="#000" stroke-width="1.6"/>
<line x1="326.5" y1="251" x2="328.8" y2="251" stroke="#000" stroke-width="1"/>
<text x="326.60" y="252.40" font-size="4.2" fill="#666" text-anchor="end" textLength="6.80" lengthAdjust="spacingAndGlyphs" >10000</text>
<line x1="326.5" y1="306.4" x2="328.8" y2="306.4" stroke="#000" stroke-width="1"/>
<text x="326.60" y="307.80" font-size="4.2" fill="#666" text-anchor="end" textLength="6.80" lengthAdjust="spacingAndGlyphs" >1000</text>
<line x1="328.80" y1="306.4" x2="328.80" y2="309.6" stroke="#000" stroke-width="1.1"/>
<text x="328.80" y="323.70" font-size="10" fill="#555" text-anchor="middle" textLength="2.80" lengthAdjust="spacingAndGlyphs" >0</text>
<line x1="350.00" y1="306.4" x2="350.00" y2="309.6" stroke="#000" stroke-width="1.1"/>
<text x="350.00" y="323.70" font-size="10" fill="#555" text-anchor="middle" textLength="2.80" lengthAdjust="spacingAndGlyphs" >2</text>
<line x1="371.20" y1="306.4" x2="371.20" y2="309.6" stroke="#000" stroke-width="1.1"/>
<text x="371.20" y="323.70" font-size="10" fill="#555" text-anchor="middle" textLength="2.80" lengthAdjust="spacingAndGlyphs" >4</text>
<line x1="392.40" y1="306.4" x2="392.40" y2="309.6" stroke="#000" stroke-width="1.1"/>
<text x="392.40" y="323.70" font-size="10" fill="#555" text-anchor="middle" textLength="2.80" lengthAdjust="spacingAndGlyphs" >6</text>
<line x1="413.60" y1="306.4" x2="413.60" y2="309.6" stroke="#000" stroke-width="1.1"/>
<text x="413.60" y="323.70" font-size="10" fill="#555" text-anchor="middle" textLength="2.80" lengthAdjust="spacingAndGlyphs" >8</text>
<line x1="434.80" y1="306.4" x2="434.80" y2="309.6" stroke="#000" stroke-width="1.1"/>
<text x="434.80" y="323.70" font-size="10" fill="#555" text-anchor="middle" textLength="5.60" lengthAdjust="spacingAndGlyphs" >10</text>
<text x="337.80" y="340.20" font-size="8.6" font-weight="bold" fill="#111" text-anchor="start" textLength="90.60" lengthAdjust="spacingAndGlyphs" >Days post-IV injection</text>
<polyline points="339.40,288 392.40,276 413.60,268.4 424.20,266.5" fill="none" stroke="#a8a8a8" stroke-width="1.6"/>
<polyline points="392.40,275.8 413.60,262 424.20,256.5" fill="none" stroke="#b0502e" stroke-width="1.7"/>
<polyline points="339.40,286 392.40,259.5 413.60,246.5 424.20,241.5" fill="none" stroke="#000" stroke-width="2.0" stroke-dasharray="2.2,3.2"/>
<polyline points="339.40,285.3 392.40,256.5 413.60,241.5 424.20,239.5" fill="none" stroke="#26328e" stroke-width="2.0" stroke-dasharray="4.5,3.5"/>
<line x1="339.40000000000003" y1="283.4" x2="339.40000000000003" y2="292.6" stroke="#a4a4a4" stroke-width="1.2"/>
<line x1="337.8" y1="283.4" x2="341.00000000000006" y2="283.4" stroke="#a4a4a4" stroke-width="1.2"/>
<line x1="337.8" y1="292.6" x2="341.00000000000006" y2="292.6" stroke="#a4a4a4" stroke-width="1.2"/>
<rect x="337.80" y="284.8" width="3.2" height="6.4" fill="#a4a4a4"/>
<line x1="392.4" y1="271.4" x2="392.4" y2="280.6" stroke="#a4a4a4" stroke-width="1.2"/>
<line x1="390.79999999999995" y1="271.4" x2="394.0" y2="271.4" stroke="#a4a4a4" stroke-width="1.2"/>
<line x1="390.79999999999995" y1="280.6" x2="394.0" y2="280.6" stroke="#a4a4a4" stroke-width="1.2"/>
<rect x="390.80" y="272.8" width="3.2" height="6.4" fill="#a4a4a4"/>
<line x1="413.6" y1="263.79999999999995" x2="413.6" y2="273.0" stroke="#a4a4a4" stroke-width="1.2"/>
<line x1="412.0" y1="263.79999999999995" x2="415.20000000000005" y2="263.79999999999995" stroke="#a4a4a4" stroke-width="1.2"/>
<line x1="412.0" y1="273.0" x2="415.20000000000005" y2="273.0" stroke="#a4a4a4" stroke-width="1.2"/>
<rect x="412.00" y="265.2" width="3.2" height="6.4" fill="#a4a4a4"/>
<line x1="424.2" y1="261.9" x2="424.2" y2="271.1" stroke="#a4a4a4" stroke-width="1.2"/>
<line x1="422.59999999999997" y1="261.9" x2="425.8" y2="261.9" stroke="#a4a4a4" stroke-width="1.2"/>
<line x1="422.59999999999997" y1="271.1" x2="425.8" y2="271.1" stroke="#a4a4a4" stroke-width="1.2"/>
<rect x="422.60" y="263.3" width="3.2" height="6.4" fill="#a4a4a4"/>
<line x1="392.4" y1="271.6" x2="392.4" y2="280.0" stroke="#b0502e" stroke-width="1"/>
<line x1="391.0" y1="271.6" x2="393.79999999999995" y2="271.6" stroke="#b0502e" stroke-width="1"/>
<line x1="391.0" y1="280.0" x2="393.79999999999995" y2="280.0" stroke="#b0502e" stroke-width="1"/>
<ellipse cx="392.40" cy="275.8" rx="2.4" ry="3.6" fill="#b0502e"/>
<line x1="413.6" y1="257.8" x2="413.6" y2="266.2" stroke="#b0502e" stroke-width="1"/>
<line x1="412.20000000000005" y1="257.8" x2="415.0" y2="257.8" stroke="#b0502e" stroke-width="1"/>
<line x1="412.20000000000005" y1="266.2" x2="415.0" y2="266.2" stroke="#b0502e" stroke-width="1"/>
<ellipse cx="413.60" cy="262" rx="2.4" ry="3.6" fill="#b0502e"/>
<line x1="424.2" y1="252.3" x2="424.2" y2="260.7" stroke="#b0502e" stroke-width="1"/>
<line x1="422.8" y1="252.3" x2="425.59999999999997" y2="252.3" stroke="#b0502e" stroke-width="1"/>
<line x1="422.8" y1="260.7" x2="425.59999999999997" y2="260.7" stroke="#b0502e" stroke-width="1"/>
<ellipse cx="424.20" cy="256.5" rx="2.4" ry="3.6" fill="#b0502e"/>
<line x1="392.4" y1="252.0" x2="392.4" y2="261.0" stroke="#26328e" stroke-width="1.1"/>
<line x1="390.79999999999995" y1="252.0" x2="394.0" y2="252.0" stroke="#26328e" stroke-width="1.1"/>
<line x1="390.79999999999995" y1="261.0" x2="394.0" y2="261.0" stroke="#26328e" stroke-width="1.1"/>
<path d="M392.40,252.5 L394.70,256.5 L392.40,260.5 L390.10,256.5 Z" fill="#26328e"/>
<line x1="413.6" y1="237.0" x2="413.6" y2="246.0" stroke="#26328e" stroke-width="1.1"/>
<line x1="412.0" y1="237.0" x2="415.20000000000005" y2="237.0" stroke="#26328e" stroke-width="1.1"/>
<line x1="412.0" y1="246.0" x2="415.20000000000005" y2="246.0" stroke="#26328e" stroke-width="1.1"/>
<path d="M413.60,237.5 L415.90,241.5 L413.60,245.5 L411.30,241.5 Z" fill="#26328e"/>
<line x1="424.2" y1="235.0" x2="424.2" y2="244.0" stroke="#26328e" stroke-width="1.1"/>
<line x1="422.59999999999997" y1="235.0" x2="425.8" y2="235.0" stroke="#26328e" stroke-width="1.1"/>
<line x1="422.59999999999997" y1="244.0" x2="425.8" y2="244.0" stroke="#26328e" stroke-width="1.1"/>
<path d="M424.20,235.5 L426.50,239.5 L424.20,243.5 L421.90,239.5 Z" fill="#26328e"/>
<path d="M392.40,255.3 L395.00,262.5 L389.80,262.5 Z" fill="#000"/>
<line x1="392.40" y1="254.5" x2="392.40" y2="264.5" stroke="#000" stroke-width="1"/>
<path d="M413.60,242.3 L416.20,249.5 L411.00,249.5 Z" fill="#000"/>
<line x1="413.60" y1="241.5" x2="413.60" y2="251.5" stroke="#000" stroke-width="1"/>
<path d="M424.20,237.3 L426.80,244.5 L421.60,244.5 Z" fill="#000"/>
<line x1="424.20" y1="236.5" x2="424.20" y2="246.5" stroke="#000" stroke-width="1"/>
<rect x="446.6" y="220.2" width="66.2" height="109" fill="#fff" stroke="#000" stroke-width="1.7"/>
<line x1="455" y1="230.8" x2="470.6" y2="230.8" stroke="#2a3a9a" stroke-width="1.6"/>
<path d="M464.6,226.2 L467.6,230.8 L464.6,235.4 L461.6,230.8 Z" fill="#2a3a9a"/>
<line x1="455.2" y1="261.3" x2="474" y2="261.3" stroke="#9a3a22" stroke-width="1.5"/>
<ellipse cx="463.6" cy="262.6" rx="2.7" ry="3.8" fill="#9a3a22"/>
<line x1="455.2" y1="292.3" x2="474" y2="292.3" stroke="#000" stroke-width="1.5" stroke-dasharray="1.6,3.5"/>
<path d="M463.2,288.6 L466.4,297 L460,297 Z" fill="#000"/>
<line x1="455" y1="323.4" x2="474" y2="323.4" stroke="#a0a0a0" stroke-width="1.5"/>
<rect x="463.2" y="320.4" width="3.3" height="6" fill="#a0a0a0"/>
<text x="475.00" y="234.80" font-size="14.3" fill="#111" text-anchor="start" textLength="22.30" lengthAdjust="spacingAndGlyphs" stroke="#111" stroke-width="0.2">Vehicle</text>
<text x="474.70" y="265.70" font-size="14.3" fill="#111" text-anchor="start" textLength="22.90" lengthAdjust="spacingAndGlyphs" stroke="#111" stroke-width="0.2">nilotinib</text>
<text x="474.70" y="283.30" font-size="14.3" fill="#111" text-anchor="start" textLength="30.70" lengthAdjust="spacingAndGlyphs" stroke="#111" stroke-width="0.2">(20mg/kg)</text>
<text x="474.70" y="296.50" font-size="14.3" fill="#111" text-anchor="start" textLength="23.40" lengthAdjust="spacingAndGlyphs" stroke="#111" stroke-width="0.2">imatinib</text>
<text x="475.00" y="314.20" font-size="14.3" fill="#111" text-anchor="start" textLength="31.30" lengthAdjust="spacingAndGlyphs" stroke="#111" stroke-width="0.2">(50mg/kg)</text>
<text x="475.00" y="327.00" font-size="14.3" fill="#111" text-anchor="start" textLength="28.60" lengthAdjust="spacingAndGlyphs" stroke="#111" stroke-width="0.2">nilotinib +</text>
</svg></body></html>
